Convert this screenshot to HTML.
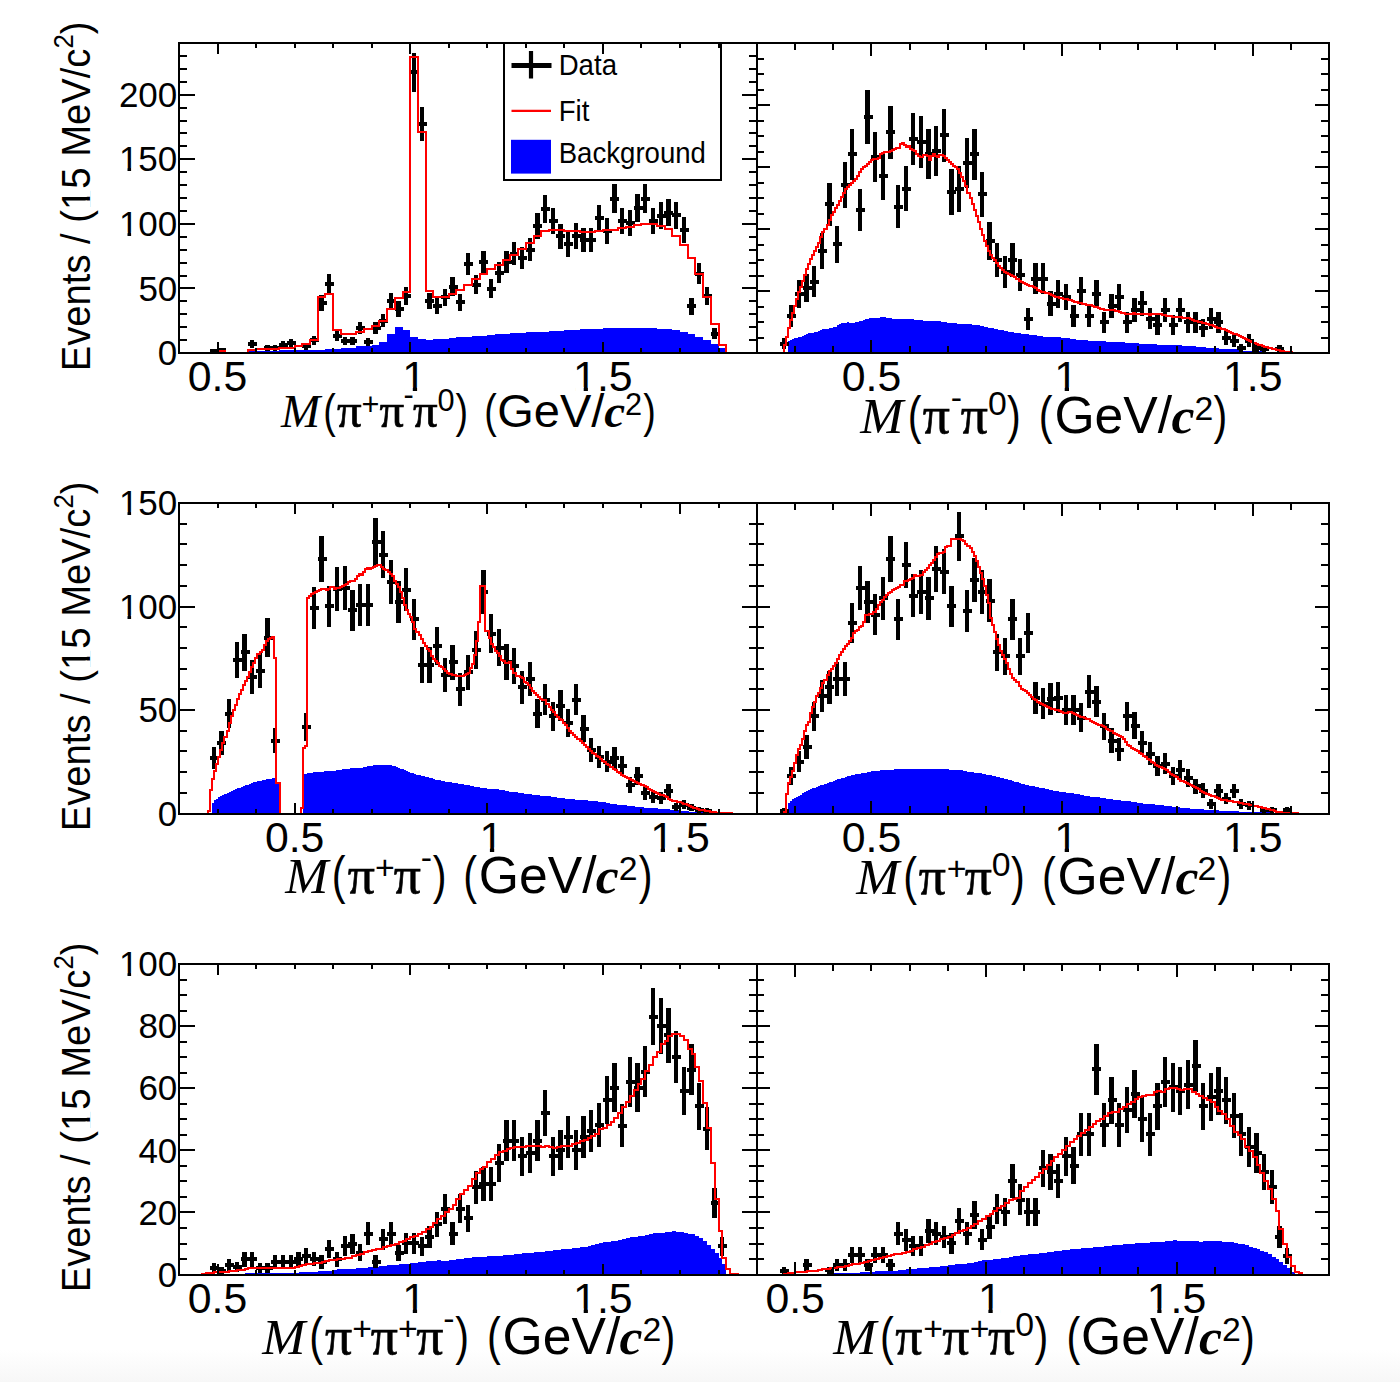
<!DOCTYPE html>
<html lang="en"><head><meta charset="utf-8"><title>Invariant mass fit projections</title>
<style>html,body{margin:0;padding:0;background:#fff}svg{display:block}</style></head>
<body>
<svg width="1400" height="1382" viewBox="0 0 1400 1382" shape-rendering="auto">
<rect width="1400" height="1382" fill="#fff"/>
<defs><linearGradient id="bg" x1="0" y1="0" x2="0" y2="1"><stop offset="0" stop-color="#ffffff"/><stop offset="1" stop-color="#f7f7f7"/></linearGradient></defs><rect x="0" y="1350" width="1400" height="32" fill="url(#bg)"/>
<g clip-path="url(#cp1)">
<clipPath id="cp1"><rect x="179" y="43" width="578" height="310"/></clipPath>
<polygon fill="#0000ff" shape-rendering="crispEdges" points="248.4,353 248.4,351.3 256.1,351.3 256.1,351 263.8,351 263.8,351 271.5,351 271.5,351 279.2,351 279.2,350.4 286.9,350.4 286.9,350.4 294.6,350.4 294.6,350.4 302.3,350.4 302.3,349.7 310,349.7 310,349.7 317.7,349.7 317.7,349.7 325.4,349.7 325.4,348.6 333.1,348.6 333.1,348.6 340.8,348.6 340.8,348.3 348.5,348.3 348.5,347.6 356.3,347.6 356.3,346.4 364,346.4 364,345.7 371.7,345.7 371.7,345 379.4,345 379.4,342.1 387.1,342.1 387.1,334.3 394.8,334.3 394.8,327.1 402.5,327.1 402.5,330 410.2,330 410.2,337.1 417.9,337.1 417.9,339 425.6,339 425.6,340 433.3,340 433.3,339.3 441,339.3 441,338.6 448.7,338.6 448.7,337.9 456.4,337.9 456.4,337.3 464.1,337.3 464.1,336.7 471.9,336.7 471.9,336.1 479.6,336.1 479.6,335.6 487.3,335.6 487.3,334.7 495,334.7 495,334.3 502.7,334.3 502.7,333.6 510.4,333.6 510.4,333.1 518.1,333.1 518.1,332.6 525.8,332.6 525.8,332.4 533.5,332.4 533.5,332.1 541.2,332.1 541.2,331.9 548.9,331.9 548.9,331 556.6,331 556.6,330.5 564.3,330.5 564.3,330.2 572,330.2 572,330.2 579.7,330.2 579.7,329 587.5,329 587.5,329 595.2,329 595.2,329 602.9,329 602.9,327.9 610.6,327.9 610.6,327.9 618.3,327.9 618.3,327.9 626,327.9 626,327.9 633.7,327.9 633.7,327.9 641.4,327.9 641.4,327.9 649.1,327.9 649.1,327.9 656.8,327.9 656.8,328.7 664.5,328.7 664.5,328.7 672.2,328.7 672.2,330.2 679.9,330.2 679.9,332 687.6,332 687.6,334.2 695.3,334.2 695.3,336.8 703.1,336.8 703.1,340.2 710.8,340.2 710.8,344 718.5,344 718.5,347.7 726.2,347.7 726.2,353"/>
<path d="M213.7 349V353M221.4 348V353M252.2 340V348M267.6 345V351M275.3 345V351M283 341V348M290.7 339V347M306.2 343V350M313.9 336V345M321.6 295V311M329.3 274V293M337 331V341M344.7 337V345M352.4 337V345M360.1 322V334M367.8 338V346M375.5 322V334M383.2 314V327M390.9 293V309M398.6 301V317M406.3 287V305M414.1 53V92M421.8 107V141M429.5 293V309M437.2 298V314M444.9 289V306M452.6 277V296M460.3 294V311M468 253V275M475.7 275V294M483.4 251V274M491.1 279V298M498.8 262V283M506.5 251V273M514.2 242V265M521.9 247V269M529.7 238V261M537.4 213V239M545.1 195V223M552.8 208V234M560.5 224V249M568.2 232V257M575.9 223V249M583.6 228V252M591.3 228V252M599 205V232M606.7 218V244M614.4 184V213M622.1 208V234M629.8 210V236M637.5 194V222M645.3 184V213M653 208V234M660.7 202V229M668.4 199V226M676.1 202V229M683.8 217V243M691.5 298V315M699.2 263V284M706.9 287V305M714.6 328V339" stroke="#000" stroke-width="4.3" fill="none" shape-rendering="crispEdges"/>
<path d="M209.5 351H218.5M216.5 350H225.5M247.5 344H256.5M263.5 348H272.5M270.5 348H279.5M278.5 345H287.5M286.5 343H295.5M301.5 346H310.5M309.5 340H318.5M317.5 303H326.5M324.5 284H333.5M332.5 336H341.5M340.5 341H349.5M347.5 341H356.5M355.5 328H364.5M363.5 342H372.5M371.5 328H380.5M378.5 321H387.5M386.5 301H395.5M394.5 309H403.5M401.5 296H410.5M409.5 72H418.5M417.5 124H426.5M424.5 301H433.5M432.5 306H441.5M440.5 297H449.5M448.5 287H457.5M455.5 302H464.5M463.5 264H472.5M471.5 285H480.5M478.5 262H487.5M486.5 289H495.5M494.5 273H503.5M502.5 262H511.5M509.5 254H518.5M517.5 258H526.5M525.5 250H534.5M532.5 226H541.5M540.5 209H549.5M548.5 221H557.5M555.5 236H564.5M563.5 244H572.5M571.5 236H580.5M579.5 240H588.5M586.5 240H595.5M594.5 218H603.5M602.5 231H611.5M609.5 199H618.5M617.5 221H626.5M625.5 223H634.5M633.5 208H642.5M640.5 199H649.5M648.5 221H657.5M656.5 216H665.5M663.5 213H672.5M671.5 215H680.5M679.5 230H688.5M686.5 306H695.5M694.5 274H703.5M702.5 296H711.5M710.5 334H719.5" stroke="#000" stroke-width="4" fill="none" shape-rendering="crispEdges"/>
<polyline fill="none" stroke="#ff0000" stroke-width="2" stroke-linejoin="miter" shape-rendering="crispEdges" points="217.5,353 217.5,351.4 225.2,351.4 225.2,353 232.9,353 232.9,353 240.7,353 240.7,353 248.4,353 248.4,349.7 256.1,349.7 256.1,349 263.8,349 263.8,349 271.5,349 271.5,349 279.2,349 279.2,348.1 286.9,348.1 286.9,348.1 294.6,348.1 294.6,346 302.3,346 302.3,344.3 310,344.3 310,340 317.7,340 317.7,296.7 325.4,296.7 325.4,293.6 333.1,293.6 333.1,330 340.8,330 340.8,333.9 348.5,333.9 348.5,333.9 356.3,333.9 356.3,332.1 364,332.1 364,329 371.7,329 371.7,325.7 379.4,325.7 379.4,320.7 387.1,320.7 387.1,308.9 394.8,308.9 394.8,297.9 402.5,297.9 402.5,292.1 410.2,292.1 410.2,57.4 417.9,57.4 417.9,132.1 425.6,132.1 425.6,290.7 433.3,290.7 433.3,296.7 441,296.7 441,296.7 448.7,296.7 448.7,293.6 456.4,293.6 456.4,289.6 464.1,289.6 464.1,284.7 471.9,284.7 471.9,278.6 479.6,278.6 479.6,273.6 487.3,273.6 487.3,268.9 495,268.9 495,265 502.7,265 502.7,260 510.4,260 510.4,254.7 518.1,254.7 518.1,249 525.8,249 525.8,242.9 533.5,242.9 533.5,236 541.2,236 541.2,231 548.9,231 548.9,229.7 556.6,229.7 556.6,230.3 564.3,230.3 564.3,230.7 572,230.7 572,230.7 579.7,230.7 579.7,231.5 587.5,231.5 587.5,231.5 595.2,231.5 595.2,230.7 602.9,230.7 602.9,230.3 610.6,230.3 610.6,229.7 618.3,229.7 618.3,227.7 626,227.7 626,226.7 633.7,226.7 633.7,225.2 641.4,225.2 641.4,223.5 649.1,223.5 649.1,223.5 656.8,223.5 656.8,225.8 664.5,225.8 664.5,228.8 672.2,228.8 672.2,235.7 679.9,235.7 679.9,244.7 687.6,244.7 687.6,257.7 695.3,257.7 695.3,273.8 703.1,273.8 703.1,297.2 710.8,297.2 710.8,323.7 718.5,323.7 718.5,344.7 726.2,344.7 726.2,353"/>
</g>
<g clip-path="url(#cp2)">
<clipPath id="cp2"><rect x="757" y="43" width="572" height="310"/></clipPath>
<polygon fill="#0000ff" shape-rendering="crispEdges" points="787.6,353 787.6,341 789.7,341 789.7,340 791.7,340 791.7,339 793.8,339 793.8,338 795.8,338 795.8,338 797.9,338 797.9,337 799.9,337 799.9,337 801.9,337 801.9,336 804,336 804,335 806,335 806,334 808.1,334 808.1,333 810.1,333 810.1,333 812.2,333 812.2,333 814.2,333 814.2,332 816.2,332 816.2,332 818.3,332 818.3,331 820.3,331 820.3,330 822.4,330 822.4,329 824.4,329 824.4,329 826.5,329 826.5,329 828.5,329 828.5,328 830.5,328 830.5,328 832.6,328 832.6,327 834.6,327 834.6,327 836.7,327 836.7,325 838.7,325 838.7,324 840.8,324 840.8,323 842.8,323 842.8,323 844.8,323 844.8,323 846.9,323 846.9,322 848.9,322 848.9,323 851,323 851,323 853,323 853,323 855.1,323 855.1,322 857.1,322 857.1,322 859.1,322 859.1,321 861.2,321 861.2,321 863.2,321 863.2,320 865.3,320 865.3,319 867.3,319 867.3,319 869.4,319 869.4,318 871.4,318 871.4,318 873.4,318 873.4,318 875.5,318 875.5,318 877.5,318 877.5,318 879.6,318 879.6,317 881.6,317 881.6,317 883.7,317 883.7,317 885.7,317 885.7,318 887.7,318 887.7,318 889.8,318 889.8,318 891.8,318 891.8,319 893.9,319 893.9,319 895.9,319 895.9,319 898,319 898,319 900,319 900,319 902,319 902,319 904.1,319 904.1,319 906.1,319 906.1,319 908.2,319 908.2,319 910.2,319 910.2,319 912.3,319 912.3,319 914.3,319 914.3,320 916.3,320 916.3,320 918.4,320 918.4,320 920.4,320 920.4,320 922.5,320 922.5,321 924.5,321 924.5,321 926.6,321 926.6,321 928.6,321 928.6,321 930.6,321 930.6,321 932.7,321 932.7,321 934.7,321 934.7,321 936.8,321 936.8,321 938.8,321 938.8,321 940.9,321 940.9,322 942.9,322 942.9,322 944.9,322 944.9,322 947,322 947,323 949,323 949,323 951.1,323 951.1,323 953.1,323 953.1,323 955.2,323 955.2,323 957.2,323 957.2,324 959.2,324 959.2,324 961.3,324 961.3,324 963.3,324 963.3,324 965.4,324 965.4,324 967.4,324 967.4,324 969.5,324 969.5,324 971.5,324 971.5,325 973.5,325 973.5,325 975.6,325 975.6,325 977.6,325 977.6,325 979.7,325 979.7,326 981.7,326 981.7,326 983.8,326 983.8,327 985.8,327 985.8,327 987.8,327 987.8,328 989.9,328 989.9,328 991.9,328 991.9,328 994,328 994,329 996,329 996,329 998.1,329 998.1,330 1000.1,330 1000.1,330 1002.1,330 1002.1,330 1004.2,330 1004.2,331 1006.2,331 1006.2,331 1008.3,331 1008.3,332 1010.3,332 1010.3,332 1012.4,332 1012.4,332 1014.4,332 1014.4,333 1016.4,333 1016.4,333 1018.5,333 1018.5,333 1020.5,333 1020.5,334 1022.6,334 1022.6,334 1024.6,334 1024.6,334 1026.7,334 1026.7,334 1028.7,334 1028.7,335 1030.7,335 1030.7,335 1032.8,335 1032.8,335 1034.8,335 1034.8,335 1036.9,335 1036.9,336 1038.9,336 1038.9,336 1041,336 1041,336 1043,336 1043,337 1045,337 1045,337 1047.1,337 1047.1,337 1049.1,337 1049.1,337 1051.2,337 1051.2,337 1053.2,337 1053.2,337 1055.3,337 1055.3,337 1057.3,337 1057.3,337 1059.3,337 1059.3,337 1061.4,337 1061.4,338 1063.4,338 1063.4,338 1065.5,338 1065.5,338 1067.5,338 1067.5,338 1069.6,338 1069.6,339 1071.6,339 1071.6,339 1073.6,339 1073.6,339 1075.7,339 1075.7,340 1077.7,340 1077.7,340 1079.8,340 1079.8,340 1081.8,340 1081.8,340 1083.9,340 1083.9,340 1085.9,340 1085.9,340 1087.9,340 1087.9,341 1090,341 1090,341 1092,341 1092,341 1094.1,341 1094.1,341 1096.1,341 1096.1,341 1098.2,341 1098.2,341 1100.2,341 1100.2,341 1102.2,341 1102.2,341 1104.3,341 1104.3,341 1106.3,341 1106.3,342 1108.4,342 1108.4,342 1110.4,342 1110.4,342 1112.5,342 1112.5,342 1114.5,342 1114.5,342 1116.5,342 1116.5,342 1118.6,342 1118.6,342 1120.6,342 1120.6,342 1122.7,342 1122.7,342 1124.7,342 1124.7,343 1126.8,343 1126.8,343 1128.8,343 1128.8,343 1130.8,343 1130.8,343 1132.9,343 1132.9,343 1134.9,343 1134.9,343 1137,343 1137,343 1139,343 1139,344 1141.1,344 1141.1,344 1143.1,344 1143.1,344 1145.1,344 1145.1,344 1147.2,344 1147.2,344 1149.2,344 1149.2,344 1151.3,344 1151.3,344 1153.3,344 1153.3,344 1155.4,344 1155.4,344 1157.4,344 1157.4,345 1159.4,345 1159.4,345 1161.5,345 1161.5,345 1163.5,345 1163.5,345 1165.6,345 1165.6,345 1167.6,345 1167.6,345 1169.7,345 1169.7,345 1171.7,345 1171.7,345 1173.7,345 1173.7,345 1175.8,345 1175.8,345 1177.8,345 1177.8,345 1179.9,345 1179.9,345 1181.9,345 1181.9,346 1184,346 1184,346 1186,346 1186,346 1188,346 1188,346 1190.1,346 1190.1,346 1192.1,346 1192.1,346 1194.2,346 1194.2,346 1196.2,346 1196.2,347 1198.3,347 1198.3,347 1200.3,347 1200.3,347 1202.3,347 1202.3,347 1204.4,347 1204.4,347 1206.4,347 1206.4,348 1208.5,348 1208.5,348 1210.5,348 1210.5,348 1212.6,348 1212.6,348 1214.6,348 1214.6,348 1216.6,348 1216.6,348 1218.7,348 1218.7,349 1220.7,349 1220.7,349 1222.8,349 1222.8,349 1224.8,349 1224.8,349 1226.9,349 1226.9,349 1228.9,349 1228.9,349 1230.9,349 1230.9,349 1233,349 1233,349 1235,349 1235,349 1237.1,349 1237.1,350 1239.1,350 1239.1,350 1241.2,350 1241.2,350 1243.2,350 1243.2,351 1245.2,351 1245.2,351 1247.3,351 1247.3,351 1249.3,351 1249.3,351 1251.4,351 1251.4,351 1253.4,351 1253.4,351 1255.5,351 1255.5,351 1257.5,351 1257.5,351 1259.5,351 1259.5,351 1261.6,351 1261.6,353"/>
<path d="M783.7 338V349M791.3 305V327M798.9 280V308M806.6 274V302M814.2 266V297M821.8 233V269M829.5 183V226M837.1 226V263M844.7 162V208M852.3 129V180M860 189V231M867.6 90V144M875.2 132V182M882.8 152V200M890.5 106V159M898.1 185V228M905.7 166V211M913.3 113V165M921 116V168M928.6 129V179M936.2 126V176M943.9 109V162M951.5 169V215M959.1 166V212M966.7 138V188M974.4 129V180M982 172V217M989.6 222V260M997.2 243V277M1004.9 256V288M1012.5 243V277M1020.1 259V291M1027.7 308V330M1035.4 263V294M1043 263V294M1050.6 291V316M1058.3 280V308M1065.9 284V310M1073.5 305V327M1081.1 277V305M1088.8 305V327M1096.4 280V308M1104 312V333M1111.6 294V318M1119.3 284V310M1126.9 312V333M1134.5 298V322M1142.1 291V316M1149.8 308V329M1157.4 315V335M1165 298V322M1172.7 315V335M1180.3 298V322M1187.9 312V333M1195.5 312V333M1203.2 319V337M1210.8 308V329M1218.4 312V333M1226 331V345M1233.7 334V347M1241.3 344V352M1248.9 334V347M1256.5 343V352M1264.2 346V353M1279.4 345V353" stroke="#000" stroke-width="4.3" fill="none" shape-rendering="crispEdges"/>
<path d="M779.5 344H788.5M786.5 316H795.5M794.5 294H803.5M802.5 288H811.5M809.5 282H818.5M817.5 251H826.5M824.5 204H833.5M832.5 244H841.5M840.5 185H849.5M847.5 154H856.5M855.5 210H864.5M863.5 117H872.5M870.5 157H879.5M878.5 176H887.5M885.5 132H894.5M893.5 207H902.5M901.5 189H910.5M908.5 139H917.5M916.5 142H925.5M924.5 154H933.5M931.5 151H940.5M939.5 135H948.5M946.5 192H955.5M954.5 189H963.5M962.5 163H971.5M969.5 154H978.5M977.5 194H986.5M985.5 241H994.5M992.5 260H1001.5M1000.5 272H1009.5M1007.5 260H1016.5M1015.5 275H1024.5M1023.5 319H1032.5M1030.5 279H1039.5M1038.5 279H1047.5M1046.5 304H1055.5M1053.5 294H1062.5M1061.5 297H1070.5M1069.5 316H1078.5M1076.5 291H1085.5M1084.5 316H1093.5M1091.5 294H1100.5M1099.5 322H1108.5M1107.5 306H1116.5M1114.5 297H1123.5M1122.5 322H1131.5M1130.5 310H1139.5M1137.5 303H1146.5M1145.5 319H1154.5M1152.5 325H1161.5M1160.5 310H1169.5M1168.5 325H1177.5M1175.5 310H1184.5M1183.5 322H1192.5M1191.5 322H1200.5M1198.5 328H1207.5M1206.5 319H1215.5M1213.5 322H1222.5M1221.5 338H1230.5M1229.5 341H1238.5M1236.5 348H1245.5M1244.5 341H1253.5M1252.5 348H1261.5M1259.5 349H1268.5M1274.5 349H1283.5" stroke="#000" stroke-width="4" fill="none" shape-rendering="crispEdges"/>
<polyline fill="none" stroke="#ff0000" stroke-width="2" stroke-linejoin="miter" shape-rendering="crispEdges" points="783.6,353 783.6,345 785.6,345 785.6,337 787.6,337 787.6,328 789.7,328 789.7,320 791.7,320 791.7,313 793.8,313 793.8,306 795.8,306 795.8,299 797.9,299 797.9,292 799.9,292 799.9,287 801.9,287 801.9,281 804,281 804,275 806,275 806,269 808.1,269 808.1,264 810.1,264 810.1,259 812.2,259 812.2,255 814.2,255 814.2,251 816.2,251 816.2,247 818.3,247 818.3,243 820.3,243 820.3,237 822.4,237 822.4,232 824.4,232 824.4,229 826.5,229 826.5,225 828.5,225 828.5,220 830.5,220 830.5,215 832.6,215 832.6,212 834.6,212 834.6,208 836.7,208 836.7,205 838.7,205 838.7,201 840.8,201 840.8,197 842.8,197 842.8,193 844.8,193 844.8,189 846.9,189 846.9,187 848.9,187 848.9,185 851,185 851,183 853,183 853,181 855.1,181 855.1,179 857.1,179 857.1,176 859.1,176 859.1,172 861.2,172 861.2,169 863.2,169 863.2,167 865.3,167 865.3,166 867.3,166 867.3,164 869.4,164 869.4,162 871.4,162 871.4,160 873.4,160 873.4,159 875.5,159 875.5,159 877.5,159 877.5,158 879.6,158 879.6,154 881.6,154 881.6,153 883.7,153 883.7,152 885.7,152 885.7,152 887.7,152 887.7,152 889.8,152 889.8,151 891.8,151 891.8,150 893.9,150 893.9,149 895.9,149 895.9,148 898,148 898,148 900,148 900,144 902,144 902,143 904.1,143 904.1,145 906.1,145 906.1,147 908.2,147 908.2,146 910.2,146 910.2,149 912.3,149 912.3,150 914.3,150 914.3,151 916.3,151 916.3,154 918.4,154 918.4,156 920.4,156 920.4,157 922.5,157 922.5,155 924.5,155 924.5,155 926.6,155 926.6,156 928.6,156 928.6,160 930.6,160 930.6,156 932.7,156 932.7,154 934.7,154 934.7,156 936.8,156 936.8,157 938.8,157 938.8,155 940.9,155 940.9,155 942.9,155 942.9,156 944.9,156 944.9,158 947,158 947,160 949,160 949,162 951.1,162 951.1,164 953.1,164 953.1,166 955.2,166 955.2,167 957.2,167 957.2,169 959.2,169 959.2,173 961.3,173 961.3,177 963.3,177 963.3,181 965.4,181 965.4,186 967.4,186 967.4,193 969.5,193 969.5,198 971.5,198 971.5,204 973.5,204 973.5,210 975.6,210 975.6,216 977.6,216 977.6,222 979.7,222 979.7,229 981.7,229 981.7,235 983.8,235 983.8,241 985.8,241 985.8,246 987.8,246 987.8,251 989.9,251 989.9,255 991.9,255 991.9,258 994,258 994,260 996,260 996,263 998.1,263 998.1,266 1000.1,266 1000.1,268 1002.1,268 1002.1,270 1004.2,270 1004.2,272 1006.2,272 1006.2,273 1008.3,273 1008.3,274 1010.3,274 1010.3,275 1012.4,275 1012.4,276 1014.4,276 1014.4,277 1016.4,277 1016.4,279 1018.5,279 1018.5,281 1020.5,281 1020.5,282 1022.6,282 1022.6,283 1024.6,283 1024.6,284 1026.7,284 1026.7,285 1028.7,285 1028.7,286 1030.7,286 1030.7,286 1032.8,286 1032.8,287 1034.8,287 1034.8,288 1036.9,288 1036.9,290 1038.9,290 1038.9,291 1041,291 1041,292 1043,292 1043,292 1045,292 1045,293 1047.1,293 1047.1,293 1049.1,293 1049.1,294 1051.2,294 1051.2,295 1053.2,295 1053.2,296 1055.3,296 1055.3,297 1057.3,297 1057.3,297 1059.3,297 1059.3,298 1061.4,298 1061.4,298 1063.4,298 1063.4,299 1065.5,299 1065.5,299 1067.5,299 1067.5,300 1069.6,300 1069.6,300 1071.6,300 1071.6,301 1073.6,301 1073.6,302 1075.7,302 1075.7,302 1077.7,302 1077.7,303 1079.8,303 1079.8,303 1081.8,303 1081.8,304 1083.9,304 1083.9,304 1085.9,304 1085.9,305 1087.9,305 1087.9,305 1090,305 1090,305 1092,305 1092,306 1094.1,306 1094.1,307 1096.1,307 1096.1,307 1098.2,307 1098.2,308 1100.2,308 1100.2,309 1102.2,309 1102.2,309 1104.3,309 1104.3,310 1106.3,310 1106.3,310 1108.4,310 1108.4,310 1110.4,310 1110.4,310 1112.5,310 1112.5,310 1114.5,310 1114.5,311 1116.5,311 1116.5,311 1118.6,311 1118.6,312 1120.6,312 1120.6,313 1122.7,313 1122.7,313 1124.7,313 1124.7,314 1126.8,314 1126.8,314 1128.8,314 1128.8,314 1130.8,314 1130.8,314 1132.9,314 1132.9,313 1134.9,313 1134.9,314 1137,314 1137,314 1139,314 1139,314 1141.1,314 1141.1,314 1143.1,314 1143.1,314 1145.1,314 1145.1,314 1147.2,314 1147.2,314 1149.2,314 1149.2,315 1151.3,315 1151.3,314 1153.3,314 1153.3,314 1155.4,314 1155.4,314 1157.4,314 1157.4,314 1159.4,314 1159.4,314 1161.5,314 1161.5,315 1163.5,315 1163.5,315 1165.6,315 1165.6,316 1167.6,316 1167.6,316 1169.7,316 1169.7,316 1171.7,316 1171.7,317 1173.7,317 1173.7,317 1175.8,317 1175.8,317 1177.8,317 1177.8,317 1179.9,317 1179.9,317 1181.9,317 1181.9,318 1184,318 1184,318 1186,318 1186,318 1188,318 1188,318 1190.1,318 1190.1,319 1192.1,319 1192.1,320 1194.2,320 1194.2,321 1196.2,321 1196.2,321 1198.3,321 1198.3,322 1200.3,322 1200.3,322 1202.3,322 1202.3,323 1204.4,323 1204.4,323 1206.4,323 1206.4,324 1208.5,324 1208.5,325 1210.5,325 1210.5,325 1212.6,325 1212.6,326 1214.6,326 1214.6,327 1216.6,327 1216.6,328 1218.7,328 1218.7,328 1220.7,328 1220.7,329 1222.8,329 1222.8,329 1224.8,329 1224.8,330 1226.9,330 1226.9,331 1228.9,331 1228.9,332 1230.9,332 1230.9,333 1233,333 1233,334 1235,334 1235,334 1237.1,334 1237.1,335 1239.1,335 1239.1,336 1241.2,336 1241.2,337 1243.2,337 1243.2,338 1245.2,338 1245.2,339 1247.3,339 1247.3,340 1249.3,340 1249.3,341 1251.4,341 1251.4,342 1253.4,342 1253.4,343 1255.5,343 1255.5,344 1257.5,344 1257.5,345 1259.5,345 1259.5,345 1261.6,345 1261.6,346 1263.6,346 1263.6,347 1265.7,347 1265.7,347 1267.7,347 1267.7,348 1269.8,348 1269.8,348 1271.8,348 1271.8,349 1273.8,349 1273.8,349 1275.9,349 1275.9,350 1277.9,350 1277.9,350 1280,350 1280,351 1282,351 1282,351 1284.1,351 1284.1,352 1286.1,352 1286.1,352 1288.1,352 1288.1,352 1290.2,352 1290.2,352 1292.2,352 1292.2,353"/>
</g>
<g clip-path="url(#cp3)">
<clipPath id="cp3"><rect x="179" y="503" width="578" height="310.5"/></clipPath>
<polygon fill="#0000ff" shape-rendering="crispEdges" points="212,813.5 212,803 214.1,803 214.1,800 216.2,800 216.2,799 218.2,799 218.2,797 220.3,797 220.3,796 222.3,796 222.3,795 224.4,795 224.4,794 226.5,794 226.5,793 228.5,793 228.5,792 230.6,792 230.6,791 232.7,791 232.7,790 234.7,790 234.7,789 236.8,789 236.8,788 238.9,788 238.9,788 240.9,788 240.9,787 243,787 243,786 245.1,786 245.1,785 247.1,785 247.1,785 249.2,785 249.2,784 251.2,784 251.2,783 253.3,783 253.3,782 255.4,782 255.4,782 257.4,782 257.4,781 259.5,781 259.5,781 261.6,781 261.6,780 263.6,780 263.6,780 265.7,780 265.7,779 267.8,779 267.8,779 269.8,779 269.8,779 271.9,779 271.9,778 274,778 274,778 276,778 276,783 278.1,783 278.1,783 280.1,783 280.1,813.5"/>
<polygon fill="#0000ff" shape-rendering="crispEdges" points="302.9,813.5 302.9,774 304.9,774 304.9,774 307,774 307,773 309.1,773 309.1,773 311.1,773 311.1,773 313.2,773 313.2,772 315.2,772 315.2,772 317.3,772 317.3,772 319.4,772 319.4,772 321.4,772 321.4,772 323.5,772 323.5,771 325.6,771 325.6,771 327.6,771 327.6,771 329.7,771 329.7,771 331.8,771 331.8,771 333.8,771 333.8,771 335.9,771 335.9,770 338,770 338,770 340,770 340,770 342.1,770 342.1,769 344.1,769 344.1,769 346.2,769 346.2,769 348.3,769 348.3,769 350.3,769 350.3,768 352.4,768 352.4,768 354.5,768 354.5,768 356.5,768 356.5,768 358.6,768 358.6,768 360.7,768 360.7,768 362.7,768 362.7,767 364.8,767 364.8,767 366.9,767 366.9,766 368.9,766 368.9,766 371,766 371,766 373,766 373,765 375.1,765 375.1,765 377.2,765 377.2,765 379.2,765 379.2,765 381.3,765 381.3,765 383.4,765 383.4,765 385.4,765 385.4,765 387.5,765 387.5,765 389.6,765 389.6,765 391.6,765 391.6,766 393.7,766 393.7,766 395.8,766 395.8,767 397.8,767 397.8,768 399.9,768 399.9,769 401.9,769 401.9,769 404,769 404,770 406.1,770 406.1,771 408.1,771 408.1,772 410.2,772 410.2,773 412.3,773 412.3,773 414.3,773 414.3,774 416.4,774 416.4,775 418.5,775 418.5,775 420.5,775 420.5,776 422.6,776 422.6,776 424.7,776 424.7,777 426.7,777 426.7,777 428.8,777 428.8,778 430.8,778 430.8,778 432.9,778 432.9,779 435,779 435,780 437,780 437,780 439.1,780 439.1,780 441.2,780 441.2,781 443.2,781 443.2,781 445.3,781 445.3,782 447.4,782 447.4,782 449.4,782 449.4,782 451.5,782 451.5,783 453.6,783 453.6,783 455.6,783 455.6,783 457.7,783 457.7,784 459.7,784 459.7,784 461.8,784 461.8,784 463.9,784 463.9,785 465.9,785 465.9,785 468,785 468,785 470.1,785 470.1,786 472.1,786 472.1,786 474.2,786 474.2,787 476.3,787 476.3,787 478.3,787 478.3,787 480.4,787 480.4,788 482.5,788 482.5,788 484.5,788 484.5,788 486.6,788 486.6,789 488.6,789 488.6,789 490.7,789 490.7,789 492.8,789 492.8,789 494.8,789 494.8,789 496.9,789 496.9,789 499,789 499,790 501,790 501,790 503.1,790 503.1,790 505.2,790 505.2,791 507.2,791 507.2,791 509.3,791 509.3,792 511.4,792 511.4,792 513.4,792 513.4,792 515.5,792 515.5,792 517.5,792 517.5,793 519.6,793 519.6,793 521.7,793 521.7,793 523.7,793 523.7,794 525.8,794 525.8,794 527.9,794 527.9,794 529.9,794 529.9,794 532,794 532,795 534.1,795 534.1,795 536.1,795 536.1,795 538.2,795 538.2,795 540.2,795 540.2,796 542.3,796 542.3,796 544.4,796 544.4,796 546.4,796 546.4,796 548.5,796 548.5,796 550.6,796 550.6,797 552.6,797 552.6,797 554.7,797 554.7,797 556.8,797 556.8,798 558.8,798 558.8,798 560.9,798 560.9,798 563,798 563,798 565,798 565,799 567.1,799 567.1,799 569.2,799 569.2,799 571.2,799 571.2,799 573.3,799 573.3,799 575.3,799 575.3,800 577.4,800 577.4,800 579.5,800 579.5,800 581.5,800 581.5,800 583.6,800 583.6,800 585.7,800 585.7,800 587.7,800 587.7,801 589.8,801 589.8,801 591.9,801 591.9,801 593.9,801 593.9,801 596,801 596,801 598.1,801 598.1,802 600.1,802 600.1,802 602.2,802 602.2,802 604.2,802 604.2,802 606.3,802 606.3,803 608.4,803 608.4,803 610.4,803 610.4,804 612.5,804 612.5,804 614.6,804 614.6,804 616.6,804 616.6,805 618.7,805 618.7,805 620.8,805 620.8,805 622.8,805 622.8,805 624.9,805 624.9,805 627,805 627,806 629,806 629,806 631.1,806 631.1,806 633.1,806 633.1,806 635.2,806 635.2,807 637.3,807 637.3,807 639.3,807 639.3,807 641.4,807 641.4,807 643.5,807 643.5,808 645.5,808 645.5,808 647.6,808 647.6,808 649.7,808 649.7,808 651.7,808 651.7,808 653.8,808 653.8,808 655.9,808 655.9,808 657.9,808 657.9,809 660,809 660,809 662,809 662,809 664.1,809 664.1,809 666.2,809 666.2,809 668.2,809 668.2,809 670.3,809 670.3,810 672.4,810 672.4,810 674.4,810 674.4,810 676.5,810 676.5,810 678.6,810 678.6,811 680.6,811 680.6,811 682.7,811 682.7,811 684.8,811 684.8,811 686.8,811 686.8,811 688.9,811 688.9,811.5 690.9,811.5 690.9,811.5 693,811.5 693,811.5 695.1,811.5 695.1,811.5 697.1,811.5 697.1,811.5 699.2,811.5 699.2,811.5 701.3,811.5 701.3,811.5 703.3,811.5 703.3,811.5 705.4,811.5 705.4,813.5"/>
<path d="M213.7 747V769M221.4 731V755M229.1 699V728M236.8 642V678M244.5 634V671M252.2 660V694M259.9 653V688M267.6 618V657M275.3 728V753M306.2 713V741M313.9 587V629M321.6 536V582M329.3 586V627M337 567V611M344.7 566V610M352.4 590V631M360.1 584V626M367.8 584V626M375.5 518V566M383.2 531V578M390.9 560V604M398.6 581V623M406.3 568V611M414.1 599V640M421.8 647V683M429.5 647V683M437.2 627V665M444.9 658V692M452.6 645V680M460.3 673V706M468 655V690M475.7 631V669M483.4 570V614M491.1 614V653M498.8 629V666M506.5 644V680M514.2 648V684M521.9 671V704M529.7 662V696M537.4 699V728M545.1 684V715M552.8 702V731M560.5 690V721M568.2 709V737M575.9 684V715M583.6 715V742M591.3 738V762M599 746V768M606.7 751V772M614.4 747V769M622.1 756V776M629.8 777V793M637.5 767V785M645.3 787V800M653 791V803M660.7 792V804M668.4 784V798M676.1 803V811M683.8 800V809M691.5 804V811M699.2 807V813M706.9 808V813" stroke="#000" stroke-width="4.3" fill="none" shape-rendering="crispEdges"/>
<path d="M209.5 758H218.5M216.5 743H225.5M224.5 714H233.5M232.5 660H241.5M240.5 652H249.5M247.5 677H256.5M255.5 671H264.5M263.5 638H272.5M270.5 741H279.5M301.5 727H310.5M309.5 608H318.5M317.5 559H326.5M324.5 606H333.5M332.5 589H341.5M340.5 588H349.5M347.5 610H356.5M355.5 605H364.5M363.5 605H372.5M371.5 542H380.5M378.5 555H387.5M386.5 582H395.5M394.5 602H403.5M401.5 590H410.5M409.5 619H418.5M417.5 665H426.5M424.5 665H433.5M432.5 646H441.5M440.5 675H449.5M448.5 662H457.5M455.5 689H464.5M463.5 672H472.5M471.5 650H480.5M478.5 592H487.5M486.5 634H495.5M494.5 648H503.5M502.5 662H511.5M509.5 666H518.5M517.5 687H526.5M525.5 679H534.5M532.5 714H541.5M540.5 700H549.5M548.5 716H557.5M555.5 706H564.5M563.5 723H572.5M571.5 700H580.5M579.5 729H588.5M586.5 750H595.5M594.5 757H603.5M602.5 762H611.5M609.5 758H618.5M617.5 766H626.5M625.5 785H634.5M633.5 776H642.5M640.5 793H649.5M648.5 797H657.5M656.5 798H665.5M663.5 791H672.5M671.5 807H680.5M679.5 805H688.5M686.5 808H695.5M694.5 810H703.5M702.5 811H711.5" stroke="#000" stroke-width="4" fill="none" shape-rendering="crispEdges"/>
<polyline fill="none" stroke="#ff0000" stroke-width="2" stroke-linejoin="miter" shape-rendering="crispEdges" points="207.9,813.5 207.9,811 210,811 210,790 212,790 212,779 214.1,779 214.1,771 216.2,771 216.2,764 218.2,764 218.2,757 220.3,757 220.3,750 222.3,750 222.3,743 224.4,743 224.4,737 226.5,737 226.5,731 228.5,731 228.5,723 230.6,723 230.6,716 232.7,716 232.7,710 234.7,710 234.7,705 236.8,705 236.8,699 238.9,699 238.9,694 240.9,694 240.9,690 243,690 243,685 245.1,685 245.1,681 247.1,681 247.1,677 249.2,677 249.2,672 251.2,672 251.2,667 253.3,667 253.3,663 255.4,663 255.4,658 257.4,658 257.4,654 259.5,654 259.5,652 261.6,652 261.6,650 263.6,650 263.6,645 265.7,645 265.7,641 267.8,641 267.8,639 269.8,639 269.8,638 271.9,638 271.9,637 274,637 274,658 276,658 276,783 278.1,783 278.1,783 280.1,783 280.1,813.5"/>
<polyline fill="none" stroke="#ff0000" stroke-width="2" stroke-linejoin="miter" shape-rendering="crispEdges" points="300.8,813.5 300.8,808 302.9,808 302.9,748 304.9,748 304.9,746 307,746 307,598 309.1,598 309.1,596 311.1,596 311.1,594 313.2,594 313.2,593 315.2,593 315.2,592 317.3,592 317.3,591 319.4,591 319.4,590 321.4,590 321.4,589 323.5,589 323.5,589 325.6,589 325.6,590 327.6,590 327.6,589 329.7,589 329.7,587 331.8,587 331.8,587 333.8,587 333.8,589 335.9,589 335.9,588 338,588 338,588 340,588 340,587 342.1,587 342.1,586 344.1,586 344.1,585 346.2,585 346.2,584 348.3,584 348.3,582 350.3,582 350.3,581 352.4,581 352.4,581 354.5,581 354.5,579 356.5,579 356.5,576 358.6,576 358.6,574 360.7,574 360.7,575 362.7,575 362.7,572 364.8,572 364.8,569 366.9,569 366.9,568 368.9,568 368.9,569 371,569 371,568 373,568 373,567 375.1,567 375.1,566 377.2,566 377.2,565 379.2,565 379.2,565 381.3,565 381.3,567 383.4,567 383.4,569 385.4,569 385.4,570 387.5,570 387.5,572 389.6,572 389.6,574 391.6,574 391.6,576 393.7,576 393.7,581 395.8,581 395.8,584 397.8,584 397.8,587 399.9,587 399.9,592 401.9,592 401.9,598 404,598 404,605 406.1,605 406.1,610 408.1,610 408.1,614 410.2,614 410.2,617 412.3,617 412.3,622 414.3,622 414.3,629 416.4,629 416.4,632 418.5,632 418.5,635 420.5,635 420.5,639 422.6,639 422.6,643 424.7,643 424.7,646 426.7,646 426.7,649 428.8,649 428.8,651 430.8,651 430.8,656 432.9,656 432.9,659 435,659 435,661 437,661 437,663 439.1,663 439.1,666 441.2,666 441.2,667 443.2,667 443.2,669 445.3,669 445.3,671 447.4,671 447.4,673 449.4,673 449.4,674 451.5,674 451.5,675 453.6,675 453.6,675 455.6,675 455.6,676 457.7,676 457.7,676 459.7,676 459.7,676 461.8,676 461.8,676 463.9,676 463.9,675 465.9,675 465.9,674 468,674 468,673 470.1,673 470.1,668 472.1,668 472.1,664 474.2,664 474.2,655 476.3,655 476.3,641 478.3,641 478.3,622 480.4,622 480.4,586 482.5,586 482.5,586 484.5,586 484.5,631 486.6,631 486.6,631 488.6,631 488.6,638 490.7,638 490.7,644 492.8,644 492.8,647 494.8,647 494.8,651 496.9,651 496.9,653 499,653 499,656 501,656 501,660 503.1,660 503.1,661 505.2,661 505.2,663 507.2,663 507.2,663 509.3,663 509.3,662 511.4,662 511.4,669 513.4,669 513.4,673 515.5,673 515.5,676 517.5,676 517.5,676 519.6,676 519.6,677 521.7,677 521.7,678 523.7,678 523.7,682 525.8,682 525.8,683 527.9,683 527.9,685 529.9,685 529.9,688 532,688 532,691 534.1,691 534.1,693 536.1,693 536.1,695 538.2,695 538.2,697 540.2,697 540.2,699 542.3,699 542.3,700 544.4,700 544.4,700 546.4,700 546.4,704 548.5,704 548.5,707 550.6,707 550.6,710 552.6,710 552.6,712 554.7,712 554.7,715 556.8,715 556.8,717 558.8,717 558.8,719 560.9,719 560.9,720 563,720 563,723 565,723 565,725 567.1,725 567.1,728 569.2,728 569.2,731 571.2,731 571.2,733 573.3,733 573.3,735 575.3,735 575.3,737 577.4,737 577.4,739 579.5,739 579.5,741 581.5,741 581.5,743 583.6,743 583.6,745 585.7,745 585.7,747 587.7,747 587.7,749 589.8,749 589.8,751 591.9,751 591.9,753 593.9,753 593.9,754 596,754 596,756 598.1,756 598.1,757 600.1,757 600.1,759 602.2,759 602.2,761 604.2,761 604.2,762 606.3,762 606.3,764 608.4,764 608.4,765 610.4,765 610.4,767 612.5,767 612.5,769 614.6,769 614.6,770 616.6,770 616.6,772 618.7,772 618.7,773 620.8,773 620.8,775 622.8,775 622.8,776 624.9,776 624.9,777 627,777 627,778 629,778 629,779 631.1,779 631.1,780 633.1,780 633.1,781 635.2,781 635.2,782 637.3,782 637.3,783 639.3,783 639.3,784 641.4,784 641.4,785 643.5,785 643.5,786 645.5,786 645.5,787 647.6,787 647.6,789 649.7,789 649.7,790 651.7,790 651.7,791 653.8,791 653.8,792 655.9,792 655.9,793 657.9,793 657.9,794 660,794 660,795 662,795 662,795 664.1,795 664.1,796 666.2,796 666.2,797 668.2,797 668.2,799 670.3,799 670.3,800 672.4,800 672.4,801 674.4,801 674.4,801 676.5,801 676.5,802 678.6,802 678.6,802 680.6,802 680.6,803 682.7,803 682.7,804 684.8,804 684.8,804 686.8,804 686.8,805 688.9,805 688.9,806 690.9,806 690.9,807 693,807 693,808 695.1,808 695.1,808 697.1,808 697.1,809 699.2,809 699.2,810 701.3,810 701.3,810 703.3,810 703.3,810 705.4,810 705.4,811 707.5,811 707.5,811 709.5,811 709.5,812 711.6,812 711.6,812 713.7,812 713.7,812 715.7,812 715.7,813 717.8,813 717.8,813 719.8,813 719.8,813 721.9,813 721.9,813 724,813 724,813 726,813 726,813 728.1,813 728.1,813 730.2,813 730.2,813 732.2,813 732.2,813.5"/>
</g>
<g clip-path="url(#cp4)">
<clipPath id="cp4"><rect x="757" y="503" width="572" height="310.5"/></clipPath>
<polygon fill="#0000ff" shape-rendering="crispEdges" points="787.6,813.5 787.6,803 789.7,803 789.7,801 791.7,801 791.7,799 793.8,799 793.8,798 795.8,798 795.8,797 797.9,797 797.9,796 799.9,796 799.9,795 801.9,795 801.9,793 804,793 804,792 806,792 806,791 808.1,791 808.1,790 810.1,790 810.1,789 812.2,789 812.2,788 814.2,788 814.2,788 816.2,788 816.2,787 818.3,787 818.3,786 820.3,786 820.3,785 822.4,785 822.4,785 824.4,785 824.4,784 826.5,784 826.5,783 828.5,783 828.5,782 830.5,782 830.5,782 832.6,782 832.6,781 834.6,781 834.6,780 836.7,780 836.7,779 838.7,779 838.7,779 840.8,779 840.8,778 842.8,778 842.8,778 844.8,778 844.8,777 846.9,777 846.9,776 848.9,776 848.9,776 851,776 851,775 853,775 853,775 855.1,775 855.1,774 857.1,774 857.1,774 859.1,774 859.1,774 861.2,774 861.2,773 863.2,773 863.2,773 865.3,773 865.3,773 867.3,773 867.3,772 869.4,772 869.4,772 871.4,772 871.4,771 873.4,771 873.4,771 875.5,771 875.5,771 877.5,771 877.5,771 879.6,771 879.6,770 881.6,770 881.6,770 883.7,770 883.7,770 885.7,770 885.7,770 887.7,770 887.7,770 889.8,770 889.8,770 891.8,770 891.8,770 893.9,770 893.9,769 895.9,769 895.9,769 898,769 898,769 900,769 900,769 902,769 902,769 904.1,769 904.1,769 906.1,769 906.1,769 908.2,769 908.2,769 910.2,769 910.2,769 912.3,769 912.3,769 914.3,769 914.3,769 916.3,769 916.3,769 918.4,769 918.4,769 920.4,769 920.4,769 922.5,769 922.5,769 924.5,769 924.5,769 926.6,769 926.6,769 928.6,769 928.6,769 930.6,769 930.6,769 932.7,769 932.7,769 934.7,769 934.7,769 936.8,769 936.8,769 938.8,769 938.8,769 940.9,769 940.9,769 942.9,769 942.9,769 944.9,769 944.9,769 947,769 947,769 949,769 949,770 951.1,770 951.1,770 953.1,770 953.1,770 955.2,770 955.2,770 957.2,770 957.2,770 959.2,770 959.2,770 961.3,770 961.3,770 963.3,770 963.3,771 965.4,771 965.4,771 967.4,771 967.4,772 969.5,772 969.5,772 971.5,772 971.5,772 973.5,772 973.5,773 975.6,773 975.6,773 977.6,773 977.6,773 979.7,773 979.7,773 981.7,773 981.7,774 983.8,774 983.8,774 985.8,774 985.8,775 987.8,775 987.8,775 989.9,775 989.9,775 991.9,775 991.9,776 994,776 994,776 996,776 996,777 998.1,777 998.1,777 1000.1,777 1000.1,778 1002.1,778 1002.1,778 1004.2,778 1004.2,779 1006.2,779 1006.2,779 1008.3,779 1008.3,780 1010.3,780 1010.3,780 1012.4,780 1012.4,781 1014.4,781 1014.4,782 1016.4,782 1016.4,782 1018.5,782 1018.5,783 1020.5,783 1020.5,784 1022.6,784 1022.6,784 1024.6,784 1024.6,785 1026.7,785 1026.7,785 1028.7,785 1028.7,786 1030.7,786 1030.7,786 1032.8,786 1032.8,786 1034.8,786 1034.8,787 1036.9,787 1036.9,787 1038.9,787 1038.9,788 1041,788 1041,788 1043,788 1043,788 1045,788 1045,789 1047.1,789 1047.1,789 1049.1,789 1049.1,790 1051.2,790 1051.2,790 1053.2,790 1053.2,791 1055.3,791 1055.3,791 1057.3,791 1057.3,791 1059.3,791 1059.3,792 1061.4,792 1061.4,792 1063.4,792 1063.4,792 1065.5,792 1065.5,793 1067.5,793 1067.5,793 1069.6,793 1069.6,793 1071.6,793 1071.6,793 1073.6,793 1073.6,794 1075.7,794 1075.7,794 1077.7,794 1077.7,794 1079.8,794 1079.8,795 1081.8,795 1081.8,795 1083.9,795 1083.9,796 1085.9,796 1085.9,796 1087.9,796 1087.9,796 1090,796 1090,797 1092,797 1092,797 1094.1,797 1094.1,797 1096.1,797 1096.1,797 1098.2,797 1098.2,797 1100.2,797 1100.2,798 1102.2,798 1102.2,798 1104.3,798 1104.3,798 1106.3,798 1106.3,799 1108.4,799 1108.4,799 1110.4,799 1110.4,799 1112.5,799 1112.5,800 1114.5,800 1114.5,800 1116.5,800 1116.5,800 1118.6,800 1118.6,800 1120.6,800 1120.6,801 1122.7,801 1122.7,801 1124.7,801 1124.7,801 1126.8,801 1126.8,801 1128.8,801 1128.8,801 1130.8,801 1130.8,802 1132.9,802 1132.9,802 1134.9,802 1134.9,802 1137,802 1137,803 1139,803 1139,803 1141.1,803 1141.1,803 1143.1,803 1143.1,804 1145.1,804 1145.1,804 1147.2,804 1147.2,804 1149.2,804 1149.2,804 1151.3,804 1151.3,804 1153.3,804 1153.3,804 1155.4,804 1155.4,805 1157.4,805 1157.4,805 1159.4,805 1159.4,805 1161.5,805 1161.5,805 1163.5,805 1163.5,806 1165.6,806 1165.6,806 1167.6,806 1167.6,806 1169.7,806 1169.7,806 1171.7,806 1171.7,807 1173.7,807 1173.7,807 1175.8,807 1175.8,807 1177.8,807 1177.8,807 1179.9,807 1179.9,808 1181.9,808 1181.9,808 1184,808 1184,808 1186,808 1186,808 1188,808 1188,808 1190.1,808 1190.1,809 1192.1,809 1192.1,809 1194.2,809 1194.2,809 1196.2,809 1196.2,809 1198.3,809 1198.3,809 1200.3,809 1200.3,809 1202.3,809 1202.3,809 1204.4,809 1204.4,810 1206.4,810 1206.4,810 1208.5,810 1208.5,810 1210.5,810 1210.5,810 1212.6,810 1212.6,810 1214.6,810 1214.6,810 1216.6,810 1216.6,810 1218.7,810 1218.7,811 1220.7,811 1220.7,811 1222.8,811 1222.8,811 1224.8,811 1224.8,811 1226.9,811 1226.9,811 1228.9,811 1228.9,811 1230.9,811 1230.9,811 1233,811 1233,811 1235,811 1235,811 1237.1,811 1237.1,811 1239.1,811 1239.1,811.5 1241.2,811.5 1241.2,811.5 1243.2,811.5 1243.2,811.5 1245.2,811.5 1245.2,811.5 1247.3,811.5 1247.3,811.5 1249.3,811.5 1249.3,811.5 1251.4,811.5 1251.4,811.5 1253.4,811.5 1253.4,811.5 1255.5,811.5 1255.5,811.5 1257.5,811.5 1257.5,811.5 1259.5,811.5 1259.5,811.5 1261.6,811.5 1261.6,811.5 1263.6,811.5 1263.6,811.5 1265.7,811.5 1265.7,811.5 1267.7,811.5 1267.7,811.5 1269.8,811.5 1269.8,811.5 1271.8,811.5 1271.8,813.5"/>
<path d="M783.7 808V814M791.3 767V785M798.9 751V772M806.6 735V759M814.2 702V731M821.8 680V712M829.5 671V704M837.1 662V696M844.7 662V696M852.3 603V643M860 566V610M867.6 581V623M875.2 594V635M882.8 577V620M890.5 536V582M898.1 599V640M905.7 542V588M913.3 574V617M921 570V614M928.6 577V620M936.2 546V592M943.9 549V594M951.5 586V627M959.1 512V561M966.7 590V632M974.4 558V602M982 570V614M989.6 579V622M997.2 634V671M1004.9 638V675M1012.5 599V640M1020.1 638V675M1027.7 613V653M1035.4 682V714M1043 688V719M1050.6 683V715M1058.3 682V713M1065.9 695V725M1073.5 695V725M1081.1 703V732M1088.8 675V708M1096.4 686V717M1104 713V740M1111.6 728V753M1119.3 738V761M1126.9 702V731M1134.5 712V739M1142.1 731V755M1149.8 742V765M1157.4 756V776M1165 753V774M1172.7 767V785M1180.3 760V780M1187.9 769V787M1195.5 779V794M1203.2 783V798M1210.8 799V809M1218.4 784V798M1226 793V804M1233.7 784V798M1241.3 799V809M1248.9 801V810M1264.2 807V813M1271.8 807V813M1287.1 807V813" stroke="#000" stroke-width="4.3" fill="none" shape-rendering="crispEdges"/>
<path d="M779.5 811H788.5M786.5 776H795.5M794.5 762H803.5M802.5 747H811.5M809.5 716H818.5M817.5 696H826.5M824.5 687H833.5M832.5 679H841.5M840.5 679H849.5M847.5 623H856.5M855.5 588H864.5M863.5 602H872.5M870.5 615H879.5M878.5 598H887.5M885.5 559H894.5M893.5 619H902.5M901.5 565H910.5M908.5 596H917.5M916.5 592H925.5M924.5 598H933.5M931.5 569H940.5M939.5 572H948.5M946.5 606H955.5M954.5 536H963.5M962.5 611H971.5M969.5 580H978.5M977.5 592H986.5M985.5 601H994.5M992.5 652H1001.5M1000.5 656H1009.5M1007.5 619H1016.5M1015.5 656H1024.5M1023.5 633H1032.5M1030.5 698H1039.5M1038.5 704H1047.5M1046.5 699H1055.5M1053.5 698H1062.5M1061.5 710H1070.5M1069.5 710H1078.5M1076.5 718H1085.5M1084.5 692H1093.5M1091.5 702H1100.5M1099.5 726H1108.5M1107.5 741H1116.5M1114.5 750H1123.5M1122.5 716H1131.5M1130.5 726H1139.5M1137.5 743H1146.5M1145.5 754H1154.5M1152.5 766H1161.5M1160.5 764H1169.5M1168.5 776H1177.5M1175.5 770H1184.5M1183.5 778H1192.5M1191.5 786H1200.5M1198.5 791H1207.5M1206.5 804H1215.5M1213.5 791H1222.5M1221.5 799H1230.5M1229.5 791H1238.5M1236.5 804H1245.5M1244.5 805H1253.5M1259.5 810H1268.5M1267.5 810H1276.5M1282.5 810H1291.5" stroke="#000" stroke-width="4" fill="none" shape-rendering="crispEdges"/>
<polyline fill="none" stroke="#ff0000" stroke-width="2" stroke-linejoin="miter" shape-rendering="crispEdges" points="783.6,813.5 783.6,812 785.6,812 785.6,794 787.6,794 787.6,783 789.7,783 789.7,777 791.7,777 791.7,771 793.8,771 793.8,763 795.8,763 795.8,755 797.9,755 797.9,749 799.9,749 799.9,745 801.9,745 801.9,739 804,739 804,731 806,731 806,725 808.1,725 808.1,722 810.1,722 810.1,713 812.2,713 812.2,707 814.2,707 814.2,702 816.2,702 816.2,696 818.3,696 818.3,693 820.3,693 820.3,688 822.4,688 822.4,683 824.4,683 824.4,680 826.5,680 826.5,675 828.5,675 828.5,671 830.5,671 830.5,669 832.6,669 832.6,666 834.6,666 834.6,663 836.7,663 836.7,659 838.7,659 838.7,655 840.8,655 840.8,652 842.8,652 842.8,649 844.8,649 844.8,646 846.9,646 846.9,644 848.9,644 848.9,641 851,641 851,638 853,638 853,633 855.1,633 855.1,631 857.1,631 857.1,630 859.1,630 859.1,627 861.2,627 861.2,626 863.2,626 863.2,622 865.3,622 865.3,615 867.3,615 867.3,615 869.4,615 869.4,614 871.4,614 871.4,614 873.4,614 873.4,612 875.5,612 875.5,609 877.5,609 877.5,605 879.6,605 879.6,602 881.6,602 881.6,600 883.7,600 883.7,597 885.7,597 885.7,595 887.7,595 887.7,593 889.8,593 889.8,592 891.8,592 891.8,590 893.9,590 893.9,589 895.9,589 895.9,588 898,588 898,587 900,587 900,585 902,585 902,585 904.1,585 904.1,581 906.1,581 906.1,581 908.2,581 908.2,580 910.2,580 910.2,579 912.3,579 912.3,578 914.3,578 914.3,575 916.3,575 916.3,576 918.4,576 918.4,576 920.4,576 920.4,575 922.5,575 922.5,572 924.5,572 924.5,570 926.6,570 926.6,568 928.6,568 928.6,565 930.6,565 930.6,563 932.7,563 932.7,560 934.7,560 934.7,557 936.8,557 936.8,554 938.8,554 938.8,553 940.9,553 940.9,553 942.9,553 942.9,552 944.9,552 944.9,547 947,547 947,546 949,546 949,546 951.1,546 951.1,539 953.1,539 953.1,539 955.2,539 955.2,539 957.2,539 957.2,539 959.2,539 959.2,539 961.3,539 961.3,540 963.3,540 963.3,541 965.4,541 965.4,544 967.4,544 967.4,546 969.5,546 969.5,548 971.5,548 971.5,552 973.5,552 973.5,556 975.6,556 975.6,561 977.6,561 977.6,567 979.7,567 979.7,573 981.7,573 981.7,579 983.8,579 983.8,586 985.8,586 985.8,595 987.8,595 987.8,603 989.9,603 989.9,618 991.9,618 991.9,625 994,625 994,632 996,632 996,639 998.1,639 998.1,645 1000.1,645 1000.1,651 1002.1,651 1002.1,655 1004.2,655 1004.2,659 1006.2,659 1006.2,663 1008.3,663 1008.3,669 1010.3,669 1010.3,674 1012.4,674 1012.4,678 1014.4,678 1014.4,680 1016.4,680 1016.4,682 1018.5,682 1018.5,686 1020.5,686 1020.5,689 1022.6,689 1022.6,690 1024.6,690 1024.6,691 1026.7,691 1026.7,693 1028.7,693 1028.7,695 1030.7,695 1030.7,697 1032.8,697 1032.8,699 1034.8,699 1034.8,700 1036.9,700 1036.9,702 1038.9,702 1038.9,703 1041,703 1041,704 1043,704 1043,705 1045,705 1045,706 1047.1,706 1047.1,707 1049.1,707 1049.1,708 1051.2,708 1051.2,709 1053.2,709 1053.2,709 1055.3,709 1055.3,710 1057.3,710 1057.3,710 1059.3,710 1059.3,711 1061.4,711 1061.4,712 1063.4,712 1063.4,713 1065.5,713 1065.5,713 1067.5,713 1067.5,712 1069.6,712 1069.6,712 1071.6,712 1071.6,713 1073.6,713 1073.6,714 1075.7,714 1075.7,715 1077.7,715 1077.7,716 1079.8,716 1079.8,717 1081.8,717 1081.8,717 1083.9,717 1083.9,718 1085.9,718 1085.9,719 1087.9,719 1087.9,719 1090,719 1090,721 1092,721 1092,722 1094.1,722 1094.1,723 1096.1,723 1096.1,724 1098.2,724 1098.2,725 1100.2,725 1100.2,725 1102.2,725 1102.2,726 1104.3,726 1104.3,727 1106.3,727 1106.3,729 1108.4,729 1108.4,730 1110.4,730 1110.4,731 1112.5,731 1112.5,733 1114.5,733 1114.5,734 1116.5,734 1116.5,735 1118.6,735 1118.6,736 1120.6,736 1120.6,737 1122.7,737 1122.7,739 1124.7,739 1124.7,742 1126.8,742 1126.8,745 1128.8,745 1128.8,746 1130.8,746 1130.8,748 1132.9,748 1132.9,749 1134.9,749 1134.9,750 1137,750 1137,751 1139,751 1139,753 1141.1,753 1141.1,754 1143.1,754 1143.1,756 1145.1,756 1145.1,757 1147.2,757 1147.2,759 1149.2,759 1149.2,760 1151.3,760 1151.3,762 1153.3,762 1153.3,763 1155.4,763 1155.4,765 1157.4,765 1157.4,766 1159.4,766 1159.4,767 1161.5,767 1161.5,768 1163.5,768 1163.5,769 1165.6,769 1165.6,770 1167.6,770 1167.6,772 1169.7,772 1169.7,774 1171.7,774 1171.7,775 1173.7,775 1173.7,776 1175.8,776 1175.8,777 1177.8,777 1177.8,779 1179.9,779 1179.9,781 1181.9,781 1181.9,781 1184,781 1184,782 1186,782 1186,783 1188,783 1188,784 1190.1,784 1190.1,785 1192.1,785 1192.1,786 1194.2,786 1194.2,787 1196.2,787 1196.2,788 1198.3,788 1198.3,789 1200.3,789 1200.3,791 1202.3,791 1202.3,792 1204.4,792 1204.4,793 1206.4,793 1206.4,794 1208.5,794 1208.5,795 1210.5,795 1210.5,796 1212.6,796 1212.6,796 1214.6,796 1214.6,797 1216.6,797 1216.6,798 1218.7,798 1218.7,799 1220.7,799 1220.7,800 1222.8,800 1222.8,800 1224.8,800 1224.8,800 1226.9,800 1226.9,801 1228.9,801 1228.9,801 1230.9,801 1230.9,801 1233,801 1233,802 1235,802 1235,802 1237.1,802 1237.1,802 1239.1,802 1239.1,803 1241.2,803 1241.2,803 1243.2,803 1243.2,804 1245.2,804 1245.2,804 1247.3,804 1247.3,804 1249.3,804 1249.3,805 1251.4,805 1251.4,805 1253.4,805 1253.4,806 1255.5,806 1255.5,806 1257.5,806 1257.5,807 1259.5,807 1259.5,807 1261.6,807 1261.6,808 1263.6,808 1263.6,808 1265.7,808 1265.7,809 1267.7,809 1267.7,809 1269.8,809 1269.8,810 1271.8,810 1271.8,810 1273.8,810 1273.8,811 1275.9,811 1275.9,812 1277.9,812 1277.9,812 1280,812 1280,812 1282,812 1282,813 1284.1,813 1284.1,813 1286.1,813 1286.1,813 1288.1,813 1288.1,813 1290.2,813 1290.2,813 1292.2,813 1292.2,813 1294.3,813 1294.3,813 1296.3,813 1296.3,813 1298.4,813 1298.4,813.5"/>
</g>
<g clip-path="url(#cp5)">
<clipPath id="cp5"><rect x="179" y="964" width="578" height="310.5"/></clipPath>
<polygon fill="#0000ff" shape-rendering="crispEdges" points="244.5,1274.5 244.5,1272.5 248.4,1272.5 248.4,1272.5 252.2,1272.5 252.2,1272.5 256.1,1272.5 256.1,1272.5 259.9,1272.5 259.9,1272.5 263.8,1272.5 263.8,1272.5 267.6,1272.5 267.6,1272.5 271.5,1272.5 271.5,1272.5 275.3,1272.5 275.3,1272.5 279.2,1272.5 279.2,1272.5 283,1272.5 283,1272.5 286.9,1272.5 286.9,1272.5 290.7,1272.5 290.7,1272.5 294.6,1272.5 294.6,1272.5 298.5,1272.5 298.5,1272 302.3,1272 302.3,1272 306.2,1272 306.2,1272 310,1272 310,1272 313.9,1272 313.9,1272 317.7,1272 317.7,1271 321.6,1271 321.6,1271 325.4,1271 325.4,1271 329.3,1271 329.3,1271 333.1,1271 333.1,1270 337,1270 337,1269 340.8,1269 340.8,1269 344.7,1269 344.7,1269 348.5,1269 348.5,1269 352.4,1269 352.4,1269 356.3,1269 356.3,1268 360.1,1268 360.1,1268 364,1268 364,1268 367.8,1268 367.8,1267 371.7,1267 371.7,1267 375.5,1267 375.5,1267 379.4,1267 379.4,1266 383.2,1266 383.2,1266 387.1,1266 387.1,1265 390.9,1265 390.9,1265 394.8,1265 394.8,1265 398.6,1265 398.6,1264 402.5,1264 402.5,1264 406.3,1264 406.3,1264 410.2,1264 410.2,1263 414.1,1263 414.1,1263 417.9,1263 417.9,1262 421.8,1262 421.8,1262 425.6,1262 425.6,1261 429.5,1261 429.5,1261 433.3,1261 433.3,1261 437.2,1261 437.2,1260 441,1260 441,1261 444.9,1261 444.9,1261 448.7,1261 448.7,1260 452.6,1260 452.6,1260 456.4,1260 456.4,1259 460.3,1259 460.3,1259 464.1,1259 464.1,1258 468,1258 468,1258 471.9,1258 471.9,1257 475.7,1257 475.7,1257 479.6,1257 479.6,1257 483.4,1257 483.4,1257 487.3,1257 487.3,1256 491.1,1256 491.1,1256 495,1256 495,1256 498.8,1256 498.8,1256 502.7,1256 502.7,1255 506.5,1255 506.5,1255 510.4,1255 510.4,1255 514.2,1255 514.2,1254 518.1,1254 518.1,1254 521.9,1254 521.9,1253 525.8,1253 525.8,1253 529.7,1253 529.7,1253 533.5,1253 533.5,1252 537.4,1252 537.4,1252 541.2,1252 541.2,1252 545.1,1252 545.1,1251 548.9,1251 548.9,1251 552.8,1251 552.8,1250 556.6,1250 556.6,1250 560.5,1250 560.5,1249 564.3,1249 564.3,1249 568.2,1249 568.2,1249 572,1249 572,1248 575.9,1248 575.9,1248 579.7,1248 579.7,1247 583.6,1247 583.6,1247 587.5,1247 587.5,1246 591.3,1246 591.3,1245 595.2,1245 595.2,1244 599,1244 599,1243 602.9,1243 602.9,1242 606.7,1242 606.7,1242 610.6,1242 610.6,1241 614.4,1241 614.4,1241 618.3,1241 618.3,1240 622.1,1240 622.1,1239 626,1239 626,1238 629.8,1238 629.8,1237 633.7,1237 633.7,1237 637.5,1237 637.5,1236 641.4,1236 641.4,1236 645.3,1236 645.3,1235 649.1,1235 649.1,1234 653,1234 653,1233 656.8,1233 656.8,1233 660.7,1233 660.7,1233 664.5,1233 664.5,1232 668.4,1232 668.4,1232 672.2,1232 672.2,1231 676.1,1231 676.1,1232 679.9,1232 679.9,1232 683.8,1232 683.8,1233 687.6,1233 687.6,1234 691.5,1234 691.5,1234 695.3,1234 695.3,1236 699.2,1236 699.2,1238 703.1,1238 703.1,1241 706.9,1241 706.9,1245 710.8,1245 710.8,1249 714.6,1249 714.6,1253 718.5,1253 718.5,1258 722.3,1258 722.3,1264 726.2,1264 726.2,1274.5"/>
<path d="M213.7 1263V1273M221.4 1267V1275M229.1 1259V1271M236.8 1262V1272M244.5 1252V1267M252.2 1252V1267M259.9 1263V1273M267.6 1263V1273M275.3 1255V1268M283 1255V1268M290.7 1255V1268M298.5 1252V1266M306.2 1248V1264M313.9 1252V1266M321.6 1255V1269M329.3 1240V1258M337 1252V1267M344.7 1236V1256M352.4 1234V1254M360.1 1244V1261M367.8 1222V1245M375.5 1255V1268M383.2 1229V1250M390.9 1222V1245M398.6 1245V1261M406.3 1233V1254M414.1 1233V1254M421.8 1237V1256M429.5 1226V1248M437.2 1212V1237M444.9 1194V1224M452.6 1222V1245M460.3 1194V1223M468 1205V1232M475.7 1171V1204M483.4 1167V1201M491.1 1167V1201M498.8 1144V1182M506.5 1120V1161M514.2 1120V1161M521.9 1137V1176M529.7 1133V1173M537.4 1120V1161M545.1 1090V1136M552.8 1137V1176M560.5 1130V1170M568.2 1116V1158M575.9 1130V1170M583.6 1116V1158M591.3 1110V1152M599 1103V1147M606.7 1076V1124M614.4 1063V1112M622.1 1104V1147M629.8 1057V1107M637.5 1063V1112M645.3 1046V1097M653 988V1045M660.7 998V1054M668.4 1008V1063M676.1 1031V1083M683.8 1067V1115M691.5 1044V1095M699.2 1083V1130M706.9 1107V1150M714.6 1188V1218M722.3 1237V1256" stroke="#000" stroke-width="4.3" fill="none" shape-rendering="crispEdges"/>
<path d="M209.5 1268H218.5M216.5 1271H225.5M224.5 1265H233.5M232.5 1267H241.5M240.5 1259H249.5M247.5 1259H256.5M255.5 1268H264.5M263.5 1268H272.5M270.5 1262H279.5M278.5 1262H287.5M286.5 1262H295.5M293.5 1259H302.5M301.5 1256H310.5M309.5 1259H318.5M317.5 1262H326.5M324.5 1249H333.5M332.5 1259H341.5M340.5 1246H349.5M347.5 1244H356.5M355.5 1253H364.5M363.5 1234H372.5M371.5 1262H380.5M378.5 1239H387.5M386.5 1234H395.5M394.5 1253H403.5M401.5 1243H410.5M409.5 1243H418.5M417.5 1246H426.5M424.5 1237H433.5M432.5 1224H441.5M440.5 1209H449.5M448.5 1234H457.5M455.5 1209H464.5M463.5 1218H472.5M471.5 1187H480.5M478.5 1184H487.5M486.5 1184H495.5M494.5 1163H503.5M502.5 1141H511.5M509.5 1141H518.5M517.5 1156H526.5M525.5 1153H534.5M532.5 1141H541.5M540.5 1113H549.5M548.5 1156H557.5M555.5 1150H564.5M563.5 1137H572.5M571.5 1150H580.5M579.5 1137H588.5M586.5 1131H595.5M594.5 1125H603.5M602.5 1100H611.5M609.5 1088H618.5M617.5 1126H626.5M625.5 1082H634.5M633.5 1088H642.5M640.5 1072H649.5M648.5 1017H657.5M656.5 1026H665.5M663.5 1035H672.5M671.5 1057H680.5M679.5 1091H688.5M686.5 1070H695.5M694.5 1106H703.5M702.5 1129H711.5M710.5 1203H719.5M717.5 1246H726.5" stroke="#000" stroke-width="4" fill="none" shape-rendering="crispEdges"/>
<polyline fill="none" stroke="#ff0000" stroke-width="2" stroke-linejoin="miter" shape-rendering="crispEdges" points="202.1,1274.5 202.1,1274 206,1274 206,1273 209.8,1273 209.8,1273 213.7,1273 213.7,1272 217.5,1272 217.5,1272 221.4,1272 221.4,1272 225.2,1272 225.2,1272 229.1,1272 229.1,1271 232.9,1271 232.9,1271 236.8,1271 236.8,1270 240.7,1270 240.7,1270 244.5,1270 244.5,1269 248.4,1269 248.4,1268 252.2,1268 252.2,1268 256.1,1268 256.1,1268 259.9,1268 259.9,1268 263.8,1268 263.8,1268 267.6,1268 267.6,1268 271.5,1268 271.5,1268 275.3,1268 275.3,1268 279.2,1268 279.2,1268 283,1268 283,1268 286.9,1268 286.9,1268 290.7,1268 290.7,1268 294.6,1268 294.6,1267 298.5,1267 298.5,1266 302.3,1266 302.3,1265 306.2,1265 306.2,1264 310,1264 310,1264 313.9,1264 313.9,1263 317.7,1263 317.7,1263 321.6,1263 321.6,1262 325.4,1262 325.4,1261 329.3,1261 329.3,1260 333.1,1260 333.1,1260 337,1260 337,1259 340.8,1259 340.8,1259 344.7,1259 344.7,1258 348.5,1258 348.5,1258 352.4,1258 352.4,1256 356.3,1256 356.3,1255 360.1,1255 360.1,1254 364,1254 364,1252 367.8,1252 367.8,1251 371.7,1251 371.7,1250 375.5,1250 375.5,1249 379.4,1249 379.4,1249 383.2,1249 383.2,1247 387.1,1247 387.1,1246 390.9,1246 390.9,1245 394.8,1245 394.8,1244 398.6,1244 398.6,1242 402.5,1242 402.5,1241 406.3,1241 406.3,1239 410.2,1239 410.2,1237 414.1,1237 414.1,1236 417.9,1236 417.9,1234 421.8,1234 421.8,1232 425.6,1232 425.6,1229 429.5,1229 429.5,1227 433.3,1227 433.3,1223 437.2,1223 437.2,1219 441,1219 441,1216 444.9,1216 444.9,1212 448.7,1212 448.7,1209 452.6,1209 452.6,1205 456.4,1205 456.4,1199 460.3,1199 460.3,1194 464.1,1194 464.1,1190 468,1190 468,1186 471.9,1186 471.9,1179 475.7,1179 475.7,1173 479.6,1173 479.6,1169 483.4,1169 483.4,1167 487.3,1167 487.3,1162 491.1,1162 491.1,1159 495,1159 495,1155 498.8,1155 498.8,1152 502.7,1152 502.7,1151 506.5,1151 506.5,1149 510.4,1149 510.4,1148 514.2,1148 514.2,1147 518.1,1147 518.1,1147 521.9,1147 521.9,1147 525.8,1147 525.8,1146 529.7,1146 529.7,1146 533.5,1146 533.5,1146 537.4,1146 537.4,1146 541.2,1146 541.2,1147 545.1,1147 545.1,1146 548.9,1146 548.9,1147 552.8,1147 552.8,1148 556.6,1148 556.6,1147 560.5,1147 560.5,1146 564.3,1146 564.3,1146 568.2,1146 568.2,1146 572,1146 572,1144 575.9,1144 575.9,1143 579.7,1143 579.7,1141 583.6,1141 583.6,1140 587.5,1140 587.5,1138 591.3,1138 591.3,1136 595.2,1136 595.2,1134 599,1134 599,1129 602.9,1129 602.9,1128 606.7,1128 606.7,1125 610.6,1125 610.6,1122 614.4,1122 614.4,1118 618.3,1118 618.3,1113 622.1,1113 622.1,1107 626,1107 626,1102 629.8,1102 629.8,1096 633.7,1096 633.7,1090 637.5,1090 637.5,1084 641.4,1084 641.4,1079 645.3,1079 645.3,1071 649.1,1071 649.1,1065 653,1065 653,1057 656.8,1057 656.8,1052 660.7,1052 660.7,1044 664.5,1044 664.5,1041 668.4,1041 668.4,1036 672.2,1036 672.2,1034 676.1,1034 676.1,1034 679.9,1034 679.9,1036 683.8,1036 683.8,1040 687.6,1040 687.6,1049 691.5,1049 691.5,1054 695.3,1054 695.3,1067 699.2,1067 699.2,1081 703.1,1081 703.1,1103 706.9,1103 706.9,1128 710.8,1128 710.8,1163 714.6,1163 714.6,1199 718.5,1199 718.5,1231 722.3,1231 722.3,1258 726.2,1258 726.2,1269 730,1269 730,1274 733.9,1274 733.9,1274 737.7,1274 737.7,1274.5"/>
</g>
<g clip-path="url(#cp6)">
<clipPath id="cp6"><rect x="757" y="964" width="572" height="310.5"/></clipPath>
<polygon fill="#0000ff" shape-rendering="crispEdges" points="833.3,1274.5 833.3,1272.5 837.1,1272.5 837.1,1272.5 840.9,1272.5 840.9,1272.5 844.7,1272.5 844.7,1272.5 848.5,1272.5 848.5,1272.5 852.3,1272.5 852.3,1272.5 856.1,1272.5 856.1,1272.5 860,1272.5 860,1272 863.8,1272 863.8,1272 867.6,1272 867.6,1272 871.4,1272 871.4,1272 875.2,1272 875.2,1271 879,1271 879,1271 882.8,1271 882.8,1271 886.7,1271 886.7,1271 890.5,1271 890.5,1271 894.3,1271 894.3,1271 898.1,1271 898.1,1270 901.9,1270 901.9,1270 905.7,1270 905.7,1269 909.5,1269 909.5,1269 913.3,1269 913.3,1269 917.2,1269 917.2,1268 921,1268 921,1268 924.8,1268 924.8,1268 928.6,1268 928.6,1267 932.4,1267 932.4,1267 936.2,1267 936.2,1267 940,1267 940,1266 943.9,1266 943.9,1266 947.7,1266 947.7,1265 951.5,1265 951.5,1265 955.3,1265 955.3,1264 959.1,1264 959.1,1264 962.9,1264 962.9,1264 966.7,1264 966.7,1263 970.5,1263 970.5,1263 974.4,1263 974.4,1262 978.2,1262 978.2,1261 982,1261 982,1260 985.8,1260 985.8,1260 989.6,1260 989.6,1260 993.4,1260 993.4,1259 997.2,1259 997.2,1259 1001.1,1259 1001.1,1258 1004.9,1258 1004.9,1258 1008.7,1258 1008.7,1257 1012.5,1257 1012.5,1256 1016.3,1256 1016.3,1256 1020.1,1256 1020.1,1255 1023.9,1255 1023.9,1255 1027.7,1255 1027.7,1254 1031.6,1254 1031.6,1254 1035.4,1254 1035.4,1254 1039.2,1254 1039.2,1253 1043,1253 1043,1253 1046.8,1253 1046.8,1252 1050.6,1252 1050.6,1252 1054.4,1252 1054.4,1251 1058.3,1251 1058.3,1251 1062.1,1251 1062.1,1250 1065.9,1250 1065.9,1250 1069.7,1250 1069.7,1249 1073.5,1249 1073.5,1249 1077.3,1249 1077.3,1249 1081.1,1249 1081.1,1248 1084.9,1248 1084.9,1248 1088.8,1248 1088.8,1248 1092.6,1248 1092.6,1247 1096.4,1247 1096.4,1247 1100.2,1247 1100.2,1247 1104,1247 1104,1246 1107.8,1246 1107.8,1246 1111.6,1246 1111.6,1245 1115.5,1245 1115.5,1245 1119.3,1245 1119.3,1245 1123.1,1245 1123.1,1244 1126.9,1244 1126.9,1244 1130.7,1244 1130.7,1244 1134.5,1244 1134.5,1243 1138.3,1243 1138.3,1243 1142.1,1243 1142.1,1243 1146,1243 1146,1243 1149.8,1243 1149.8,1242 1153.6,1242 1153.6,1242 1157.4,1242 1157.4,1242 1161.2,1242 1161.2,1242 1165,1242 1165,1241 1168.8,1241 1168.8,1241 1172.7,1241 1172.7,1240 1176.5,1240 1176.5,1241 1180.3,1241 1180.3,1241 1184.1,1241 1184.1,1241 1187.9,1241 1187.9,1241 1191.7,1241 1191.7,1241 1195.5,1241 1195.5,1241 1199.3,1241 1199.3,1242 1203.2,1242 1203.2,1241 1207,1241 1207,1241 1210.8,1241 1210.8,1241 1214.6,1241 1214.6,1241 1218.4,1241 1218.4,1241 1222.2,1241 1222.2,1242 1226,1242 1226,1242 1229.9,1242 1229.9,1242 1233.7,1242 1233.7,1243 1237.5,1243 1237.5,1244 1241.3,1244 1241.3,1244 1245.1,1244 1245.1,1245 1248.9,1245 1248.9,1247 1252.7,1247 1252.7,1248 1256.5,1248 1256.5,1249 1260.4,1249 1260.4,1251 1264.2,1251 1264.2,1252 1268,1252 1268,1254 1271.8,1254 1271.8,1257 1275.6,1257 1275.6,1259 1279.4,1259 1279.4,1262 1283.2,1262 1283.2,1265 1287.1,1265 1287.1,1268 1290.9,1268 1290.9,1272 1294.7,1272 1294.7,1274.5"/>
<path d="M783.7 1267V1275M806.6 1259V1271M829.5 1267V1274M837.1 1259V1271M844.7 1259V1271M852.3 1247V1263M860 1247V1263M867.6 1259V1271M875.2 1247V1263M882.8 1247V1263M890.5 1259V1271M898.1 1222V1245M905.7 1229V1251M913.3 1236V1256M921 1236V1256M928.6 1219V1243M936.2 1222V1245M943.9 1226V1248M951.5 1233V1254M959.1 1208V1234M966.7 1222V1245M974.4 1201V1229M982 1229V1250M989.6 1215V1239M997.2 1194V1224M1004.9 1198V1226M1012.5 1164V1198M1020.1 1184V1215M1027.7 1198V1226M1035.4 1198V1226M1043 1150V1187M1050.6 1154V1190M1058.3 1164V1198M1065.9 1137V1176M1073.5 1147V1184M1081.1 1113V1156M1088.8 1113V1156M1096.4 1044V1095M1104 1103V1147M1111.6 1077V1124M1119.3 1103V1147M1126.9 1087V1133M1134.5 1070V1118M1142.1 1097V1142M1149.8 1113V1156M1157.4 1083V1130M1165 1057V1107M1172.7 1063V1112M1180.3 1067V1115M1187.9 1060V1109M1195.5 1040V1092M1203.2 1083V1130M1210.8 1073V1121M1218.4 1067V1115M1226 1077V1124M1233.7 1093V1138M1241.3 1113V1156M1248.9 1127V1167M1256.5 1133V1173M1264.2 1154V1190M1271.8 1170V1204M1279.4 1226V1248M1287.1 1248V1264" stroke="#000" stroke-width="4.3" fill="none" shape-rendering="crispEdges"/>
<path d="M779.5 1271H788.5M802.5 1265H811.5M824.5 1270H833.5M832.5 1265H841.5M840.5 1265H849.5M847.5 1255H856.5M855.5 1255H864.5M863.5 1265H872.5M870.5 1255H879.5M878.5 1255H887.5M885.5 1265H894.5M893.5 1234H902.5M901.5 1240H910.5M908.5 1246H917.5M916.5 1246H925.5M924.5 1231H933.5M931.5 1234H940.5M939.5 1237H948.5M946.5 1243H955.5M954.5 1221H963.5M962.5 1234H971.5M969.5 1215H978.5M977.5 1240H986.5M985.5 1227H994.5M992.5 1209H1001.5M1000.5 1212H1009.5M1007.5 1181H1016.5M1015.5 1200H1024.5M1023.5 1212H1032.5M1030.5 1212H1039.5M1038.5 1168H1047.5M1046.5 1172H1055.5M1053.5 1181H1062.5M1061.5 1156H1070.5M1069.5 1166H1078.5M1076.5 1134H1085.5M1084.5 1134H1093.5M1091.5 1069H1100.5M1099.5 1125H1108.5M1107.5 1100H1116.5M1114.5 1125H1123.5M1122.5 1110H1131.5M1130.5 1094H1139.5M1137.5 1119H1146.5M1145.5 1134H1154.5M1152.5 1106H1161.5M1160.5 1082H1169.5M1168.5 1087H1177.5M1175.5 1091H1184.5M1183.5 1085H1192.5M1191.5 1066H1200.5M1198.5 1106H1207.5M1206.5 1097H1215.5M1213.5 1091H1222.5M1221.5 1100H1230.5M1229.5 1116H1238.5M1236.5 1134H1245.5M1244.5 1147H1253.5M1252.5 1153H1261.5M1259.5 1172H1268.5M1267.5 1187H1276.5M1274.5 1237H1283.5M1282.5 1256H1291.5" stroke="#000" stroke-width="4" fill="none" shape-rendering="crispEdges"/>
<polyline fill="none" stroke="#ff0000" stroke-width="2" stroke-linejoin="miter" shape-rendering="crispEdges" points="783.7,1274.5 783.7,1274 787.5,1274 787.5,1273 791.3,1273 791.3,1273 795.1,1273 795.1,1272 798.9,1272 798.9,1272 802.8,1272 802.8,1272 806.6,1272 806.6,1271 810.4,1271 810.4,1271 814.2,1271 814.2,1271 818,1271 818,1270 821.8,1270 821.8,1269 825.6,1269 825.6,1269 829.5,1269 829.5,1268 833.3,1268 833.3,1268 837.1,1268 837.1,1267 840.9,1267 840.9,1267 844.7,1267 844.7,1266 848.5,1266 848.5,1265 852.3,1265 852.3,1264 856.1,1264 856.1,1264 860,1264 860,1263 863.8,1263 863.8,1262 867.6,1262 867.6,1261 871.4,1261 871.4,1260 875.2,1260 875.2,1259 879,1259 879,1258 882.8,1258 882.8,1257 886.7,1257 886.7,1256 890.5,1256 890.5,1255 894.3,1255 894.3,1254 898.1,1254 898.1,1254 901.9,1254 901.9,1253 905.7,1253 905.7,1252 909.5,1252 909.5,1251 913.3,1251 913.3,1249 917.2,1249 917.2,1248 921,1248 921,1247 924.8,1247 924.8,1245 928.6,1245 928.6,1244 932.4,1244 932.4,1242 936.2,1242 936.2,1241 940,1241 940,1239 943.9,1239 943.9,1238 947.7,1238 947.7,1237 951.5,1237 951.5,1235 955.3,1235 955.3,1233 959.1,1233 959.1,1231 962.9,1231 962.9,1230 966.7,1230 966.7,1228 970.5,1228 970.5,1226 974.4,1226 974.4,1224 978.2,1224 978.2,1221 982,1221 982,1219 985.8,1219 985.8,1216 989.6,1216 989.6,1214 993.4,1214 993.4,1211 997.2,1211 997.2,1208 1001.1,1208 1001.1,1206 1004.9,1206 1004.9,1203 1008.7,1203 1008.7,1200 1012.5,1200 1012.5,1199 1016.3,1199 1016.3,1198 1020.1,1198 1020.1,1191 1023.9,1191 1023.9,1187 1027.7,1187 1027.7,1183 1031.6,1183 1031.6,1180 1035.4,1180 1035.4,1177 1039.2,1177 1039.2,1173 1043,1173 1043,1169 1046.8,1169 1046.8,1165 1050.6,1165 1050.6,1161 1054.4,1161 1054.4,1157 1058.3,1157 1058.3,1154 1062.1,1154 1062.1,1150 1065.9,1150 1065.9,1146 1069.7,1146 1069.7,1142 1073.5,1142 1073.5,1139 1077.3,1139 1077.3,1136 1081.1,1136 1081.1,1133 1084.9,1133 1084.9,1130 1088.8,1130 1088.8,1127 1092.6,1127 1092.6,1124 1096.4,1124 1096.4,1121 1100.2,1121 1100.2,1119 1104,1119 1104,1116 1107.8,1116 1107.8,1113 1111.6,1113 1111.6,1112 1115.5,1112 1115.5,1112 1119.3,1112 1119.3,1109 1123.1,1109 1123.1,1107 1126.9,1107 1126.9,1104 1130.7,1104 1130.7,1102 1134.5,1102 1134.5,1099 1138.3,1099 1138.3,1097 1142.1,1097 1142.1,1096 1146,1096 1146,1095 1149.8,1095 1149.8,1095 1153.6,1095 1153.6,1092 1157.4,1092 1157.4,1091 1161.2,1091 1161.2,1092 1165,1092 1165,1089 1168.8,1089 1168.8,1088 1172.7,1088 1172.7,1088 1176.5,1088 1176.5,1089 1180.3,1089 1180.3,1090 1184.1,1090 1184.1,1089 1187.9,1089 1187.9,1089 1191.7,1089 1191.7,1092 1195.5,1092 1195.5,1094 1199.3,1094 1199.3,1096 1203.2,1096 1203.2,1098 1207,1098 1207,1100 1210.8,1100 1210.8,1102 1214.6,1102 1214.6,1107 1218.4,1107 1218.4,1111 1222.2,1111 1222.2,1114 1226,1114 1226,1119 1229.9,1119 1229.9,1126 1233.7,1126 1233.7,1132 1237.5,1132 1237.5,1135 1241.3,1135 1241.3,1139 1245.1,1139 1245.1,1147 1248.9,1147 1248.9,1151 1252.7,1151 1252.7,1157 1256.5,1157 1256.5,1165 1260.4,1165 1260.4,1173 1264.2,1173 1264.2,1181 1268,1181 1268,1189 1271.8,1189 1271.8,1199 1275.6,1199 1275.6,1211 1279.4,1211 1279.4,1229 1283.2,1229 1283.2,1244 1287.1,1244 1287.1,1257 1290.9,1257 1290.9,1266 1294.7,1266 1294.7,1272 1298.5,1272 1298.5,1273 1302.3,1273 1302.3,1274.5"/>
</g>
<rect x="504" y="43" width="217" height="136.6" fill="#fff" stroke="#000" stroke-width="2" shape-rendering="crispEdges"/>
<path d="M511.5 65.5H551.5" stroke="#000" stroke-width="5"/><path d="M531 51V78.5" stroke="#000" stroke-width="4.2"/>
<path d="M511.5 110.8H551" stroke="#ff0000" stroke-width="2.2"/>
<rect x="511" y="139.8" width="40" height="33.8" fill="#0000ff"/>
<text transform="translate(558.7 74.6) scale(0.962 1)" font-size="28.7" font-family='"Liberation Sans", Arial, Helvetica, sans-serif'>Data</text>
<text transform="translate(558.7 120.6) scale(0.962 1)" font-size="28.7" font-family='"Liberation Sans", Arial, Helvetica, sans-serif'>Fit</text>
<text transform="translate(558.7 163.4) scale(0.962 1)" font-size="28.7" font-family='"Liberation Sans", Arial, Helvetica, sans-serif'>Background</text>
<path d="M217.5 353v-11M217.5 43v11M256.1 353v-5M256.1 43v5M294.6 353v-5M294.6 43v5M333.1 353v-5M333.1 43v5M371.7 353v-5M371.7 43v5M410.2 353v-11M410.2 43v11M448.7 353v-5M448.7 43v5M487.3 353v-5M487.3 43v5M525.8 353v-5M525.8 43v5M564.3 353v-5M564.3 43v5M602.9 353v-11M602.9 43v11M641.4 353v-5M641.4 43v5M679.9 353v-5M679.9 43v5M718.5 353v-5M718.5 43v5M179 340.1h8M757 340.1h-8M179 327.2h8M757 327.2h-8M179 314.2h8M757 314.2h-8M179 301.3h8M757 301.3h-8M179 288.4h15.5M757 288.4h-15.5M179 275.5h8M757 275.5h-8M179 262.6h8M757 262.6h-8M179 249.7h8M757 249.7h-8M179 236.8h8M757 236.8h-8M179 223.8h15.5M757 223.8h-15.5M179 210.9h8M757 210.9h-8M179 198h8M757 198h-8M179 185.1h8M757 185.1h-8M179 172.2h8M757 172.2h-8M179 159.2h15.5M757 159.2h-15.5M179 146.3h8M757 146.3h-8M179 133.4h8M757 133.4h-8M179 120.5h8M757 120.5h-8M179 107.6h8M757 107.6h-8M179 94.7h15.5M757 94.7h-15.5M179 81.8h8M757 81.8h-8M179 68.8h8M757 68.8h-8M179 55.9h8M757 55.9h-8" stroke="#000" stroke-width="2" fill="none" shape-rendering="crispEdges"/>
<text x="187.8" y="391" font-size="42.8" font-family='"Liberation Sans", Arial, Helvetica, sans-serif'>0.5</text>
<text x="402.3" y="391" font-size="42.8" font-family='"Liberation Sans", Arial, Helvetica, sans-serif'>1</text>
<path d="M404.4 386.9h8.4v5.2h-8.4zM417.1 386.9h8.1v5.2h-8.1z" fill="#fff"/>
<text x="573.1" y="391" font-size="42.8" font-family='"Liberation Sans", Arial, Helvetica, sans-serif'>1.5</text>
<path d="M575.3 386.9h8.4v5.2h-8.4zM587.9 386.9h8.1v5.2h-8.1z" fill="#fff"/>
<text x="157.8" y="365.2" font-size="35" font-family='"Liberation Sans", Arial, Helvetica, sans-serif'>0</text>
<text x="138.4" y="300.6" font-size="35" font-family='"Liberation Sans", Arial, Helvetica, sans-serif'>50</text>
<text x="118.9" y="236" font-size="35" font-family='"Liberation Sans", Arial, Helvetica, sans-serif'>100</text>
<path d="M120.7 232.5h6.8v4.6h-6.8zM131.1 232.5h6.7v4.6h-6.7z" fill="#fff"/>
<text x="118.9" y="171.4" font-size="35" font-family='"Liberation Sans", Arial, Helvetica, sans-serif'>150</text>
<path d="M120.7 167.9h6.8v4.6h-6.8zM131.1 167.9h6.7v4.6h-6.7z" fill="#fff"/>
<text x="118.9" y="106.9" font-size="35" font-family='"Liberation Sans", Arial, Helvetica, sans-serif'>200</text>
<path d="M795.1 353v-7.2M795.1 43v7.2M833.3 353v-7.2M833.3 43v7.2M871.4 353v-13M871.4 43v13M909.5 353v-7.2M909.5 43v7.2M947.7 353v-7.2M947.7 43v7.2M985.8 353v-7.2M985.8 43v7.2M1023.9 353v-7.2M1023.9 43v7.2M1062.1 353v-13M1062.1 43v13M1100.2 353v-7.2M1100.2 43v7.2M1138.3 353v-7.2M1138.3 43v7.2M1176.5 353v-7.2M1176.5 43v7.2M1214.6 353v-7.2M1214.6 43v7.2M1252.7 353v-13M1252.7 43v13M1290.9 353v-7.2M1290.9 43v7.2M757 337.5h6.7M1329 337.5h-8.1M757 322h6.7M1329 322h-8.1M757 306.5h6.7M1329 306.5h-8.1M757 291h12.7M1329 291h-14.1M757 275.5h6.7M1329 275.5h-8.1M757 260h6.7M1329 260h-8.1M757 244.5h6.7M1329 244.5h-8.1M757 229h12.7M1329 229h-14.1M757 213.5h6.7M1329 213.5h-8.1M757 198h6.7M1329 198h-8.1M757 182.5h6.7M1329 182.5h-8.1M757 167h12.7M1329 167h-14.1M757 151.5h6.7M1329 151.5h-8.1M757 136h6.7M1329 136h-8.1M757 120.5h6.7M1329 120.5h-8.1M757 105h12.7M1329 105h-14.1M757 89.5h6.7M1329 89.5h-8.1M757 74h6.7M1329 74h-8.1M757 58.5h6.7M1329 58.5h-8.1" stroke="#000" stroke-width="2" fill="none" shape-rendering="crispEdges"/>
<text x="841.7" y="391" font-size="42.8" font-family='"Liberation Sans", Arial, Helvetica, sans-serif'>0.5</text>
<text x="1054.2" y="391" font-size="42.8" font-family='"Liberation Sans", Arial, Helvetica, sans-serif'>1</text>
<path d="M1056.3 386.9h8.4v5.2h-8.4zM1069 386.9h8.1v5.2h-8.1z" fill="#fff"/>
<text x="1223" y="391" font-size="42.8" font-family='"Liberation Sans", Arial, Helvetica, sans-serif'>1.5</text>
<path d="M1225.1 386.9h8.4v5.2h-8.4zM1237.8 386.9h8.1v5.2h-8.1z" fill="#fff"/>
<path d="M217.5 813.5v-5M217.5 503v5M256.1 813.5v-5M256.1 503v5M294.6 813.5v-11M294.6 503v11M333.1 813.5v-5M333.1 503v5M371.7 813.5v-5M371.7 503v5M410.2 813.5v-5M410.2 503v5M448.7 813.5v-5M448.7 503v5M487.3 813.5v-11M487.3 503v11M525.8 813.5v-5M525.8 503v5M564.3 813.5v-5M564.3 503v5M602.9 813.5v-5M602.9 503v5M641.4 813.5v-5M641.4 503v5M679.9 813.5v-11M679.9 503v11M718.5 813.5v-5M718.5 503v5M179 792.8h8M757 792.8h-8M179 772.1h8M757 772.1h-8M179 751.4h8M757 751.4h-8M179 730.7h8M757 730.7h-8M179 710h15.5M757 710h-15.5M179 689.3h8M757 689.3h-8M179 668.6h8M757 668.6h-8M179 647.9h8M757 647.9h-8M179 627.2h8M757 627.2h-8M179 606.5h15.5M757 606.5h-15.5M179 585.8h8M757 585.8h-8M179 565.1h8M757 565.1h-8M179 544.4h8M757 544.4h-8M179 523.7h8M757 523.7h-8" stroke="#000" stroke-width="2" fill="none" shape-rendering="crispEdges"/>
<text x="264.9" y="851.5" font-size="42.8" font-family='"Liberation Sans", Arial, Helvetica, sans-serif'>0.5</text>
<text x="479.4" y="851.5" font-size="42.8" font-family='"Liberation Sans", Arial, Helvetica, sans-serif'>1</text>
<path d="M481.5 847.4h8.4v5.2h-8.4zM494.2 847.4h8.1v5.2h-8.1z" fill="#fff"/>
<text x="650.2" y="851.5" font-size="42.8" font-family='"Liberation Sans", Arial, Helvetica, sans-serif'>1.5</text>
<path d="M652.3 847.4h8.4v5.2h-8.4zM665 847.4h8.1v5.2h-8.1z" fill="#fff"/>
<text x="157.8" y="825.7" font-size="35" font-family='"Liberation Sans", Arial, Helvetica, sans-serif'>0</text>
<text x="138.4" y="722.2" font-size="35" font-family='"Liberation Sans", Arial, Helvetica, sans-serif'>50</text>
<text x="118.9" y="618.7" font-size="35" font-family='"Liberation Sans", Arial, Helvetica, sans-serif'>100</text>
<path d="M120.7 615.2h6.8v4.6h-6.8zM131.1 615.2h6.7v4.6h-6.7z" fill="#fff"/>
<text x="118.9" y="515.2" font-size="35" font-family='"Liberation Sans", Arial, Helvetica, sans-serif'>150</text>
<path d="M120.7 511.7h6.8v4.6h-6.8zM131.1 511.7h6.7v4.6h-6.7z" fill="#fff"/>
<path d="M795.1 813.5v-7.2M795.1 503v7.2M833.3 813.5v-7.2M833.3 503v7.2M871.4 813.5v-13M871.4 503v13M909.5 813.5v-7.2M909.5 503v7.2M947.7 813.5v-7.2M947.7 503v7.2M985.8 813.5v-7.2M985.8 503v7.2M1023.9 813.5v-7.2M1023.9 503v7.2M1062.1 813.5v-13M1062.1 503v13M1100.2 813.5v-7.2M1100.2 503v7.2M1138.3 813.5v-7.2M1138.3 503v7.2M1176.5 813.5v-7.2M1176.5 503v7.2M1214.6 813.5v-7.2M1214.6 503v7.2M1252.7 813.5v-13M1252.7 503v13M1290.9 813.5v-7.2M1290.9 503v7.2M757 792.8h6.7M1329 792.8h-8.1M757 772.1h6.7M1329 772.1h-8.1M757 751.4h6.7M1329 751.4h-8.1M757 730.7h6.7M1329 730.7h-8.1M757 710h12.7M1329 710h-14.1M757 689.3h6.7M1329 689.3h-8.1M757 668.6h6.7M1329 668.6h-8.1M757 647.9h6.7M1329 647.9h-8.1M757 627.2h6.7M1329 627.2h-8.1M757 606.5h12.7M1329 606.5h-14.1M757 585.8h6.7M1329 585.8h-8.1M757 565.1h6.7M1329 565.1h-8.1M757 544.4h6.7M1329 544.4h-8.1M757 523.7h6.7M1329 523.7h-8.1" stroke="#000" stroke-width="2" fill="none" shape-rendering="crispEdges"/>
<text x="841.7" y="851.5" font-size="42.8" font-family='"Liberation Sans", Arial, Helvetica, sans-serif'>0.5</text>
<text x="1054.2" y="851.5" font-size="42.8" font-family='"Liberation Sans", Arial, Helvetica, sans-serif'>1</text>
<path d="M1056.3 847.4h8.4v5.2h-8.4zM1069 847.4h8.1v5.2h-8.1z" fill="#fff"/>
<text x="1223" y="851.5" font-size="42.8" font-family='"Liberation Sans", Arial, Helvetica, sans-serif'>1.5</text>
<path d="M1225.1 847.4h8.4v5.2h-8.4zM1237.8 847.4h8.1v5.2h-8.1z" fill="#fff"/>
<path d="M217.5 1274.5v-11M217.5 964v11M256.1 1274.5v-5M256.1 964v5M294.6 1274.5v-5M294.6 964v5M333.1 1274.5v-5M333.1 964v5M371.7 1274.5v-5M371.7 964v5M410.2 1274.5v-11M410.2 964v11M448.7 1274.5v-5M448.7 964v5M487.3 1274.5v-5M487.3 964v5M525.8 1274.5v-5M525.8 964v5M564.3 1274.5v-5M564.3 964v5M602.9 1274.5v-11M602.9 964v11M641.4 1274.5v-5M641.4 964v5M679.9 1274.5v-5M679.9 964v5M718.5 1274.5v-5M718.5 964v5M179 1259h8M757 1259h-8M179 1243.5h8M757 1243.5h-8M179 1227.9h8M757 1227.9h-8M179 1212.4h15.5M757 1212.4h-15.5M179 1196.9h8M757 1196.9h-8M179 1181.3h8M757 1181.3h-8M179 1165.8h8M757 1165.8h-8M179 1150.3h15.5M757 1150.3h-15.5M179 1134.8h8M757 1134.8h-8M179 1119.2h8M757 1119.2h-8M179 1103.7h8M757 1103.7h-8M179 1088.2h15.5M757 1088.2h-15.5M179 1072.7h8M757 1072.7h-8M179 1057.2h8M757 1057.2h-8M179 1041.6h8M757 1041.6h-8M179 1026.1h15.5M757 1026.1h-15.5M179 1010.6h8M757 1010.6h-8M179 995h8M757 995h-8M179 979.5h8M757 979.5h-8" stroke="#000" stroke-width="2" fill="none" shape-rendering="crispEdges"/>
<text x="187.8" y="1312.5" font-size="42.8" font-family='"Liberation Sans", Arial, Helvetica, sans-serif'>0.5</text>
<text x="402.3" y="1312.5" font-size="42.8" font-family='"Liberation Sans", Arial, Helvetica, sans-serif'>1</text>
<path d="M404.4 1308.4h8.4v5.2h-8.4zM417.1 1308.4h8.1v5.2h-8.1z" fill="#fff"/>
<text x="573.1" y="1312.5" font-size="42.8" font-family='"Liberation Sans", Arial, Helvetica, sans-serif'>1.5</text>
<path d="M575.3 1308.4h8.4v5.2h-8.4zM587.9 1308.4h8.1v5.2h-8.1z" fill="#fff"/>
<text x="157.8" y="1286.7" font-size="35" font-family='"Liberation Sans", Arial, Helvetica, sans-serif'>0</text>
<text x="138.4" y="1224.6" font-size="35" font-family='"Liberation Sans", Arial, Helvetica, sans-serif'>20</text>
<text x="138.4" y="1162.5" font-size="35" font-family='"Liberation Sans", Arial, Helvetica, sans-serif'>40</text>
<text x="138.4" y="1100.4" font-size="35" font-family='"Liberation Sans", Arial, Helvetica, sans-serif'>60</text>
<text x="138.4" y="1038.3" font-size="35" font-family='"Liberation Sans", Arial, Helvetica, sans-serif'>80</text>
<text x="118.9" y="976.2" font-size="35" font-family='"Liberation Sans", Arial, Helvetica, sans-serif'>100</text>
<path d="M120.7 972.7h6.8v4.6h-6.8zM131.1 972.7h6.7v4.6h-6.7z" fill="#fff"/>
<path d="M795.1 1274.5v-13M795.1 964v13M833.3 1274.5v-7.2M833.3 964v7.2M871.4 1274.5v-7.2M871.4 964v7.2M909.5 1274.5v-7.2M909.5 964v7.2M947.7 1274.5v-7.2M947.7 964v7.2M985.8 1274.5v-13M985.8 964v13M1023.9 1274.5v-7.2M1023.9 964v7.2M1062.1 1274.5v-7.2M1062.1 964v7.2M1100.2 1274.5v-7.2M1100.2 964v7.2M1138.3 1274.5v-7.2M1138.3 964v7.2M1176.5 1274.5v-13M1176.5 964v13M1214.6 1274.5v-7.2M1214.6 964v7.2M1252.7 1274.5v-7.2M1252.7 964v7.2M1290.9 1274.5v-7.2M1290.9 964v7.2M757 1259h6.7M1329 1259h-8.1M757 1243.5h6.7M1329 1243.5h-8.1M757 1227.9h6.7M1329 1227.9h-8.1M757 1212.4h12.7M1329 1212.4h-14.1M757 1196.9h6.7M1329 1196.9h-8.1M757 1181.3h6.7M1329 1181.3h-8.1M757 1165.8h6.7M1329 1165.8h-8.1M757 1150.3h12.7M1329 1150.3h-14.1M757 1134.8h6.7M1329 1134.8h-8.1M757 1119.2h6.7M1329 1119.2h-8.1M757 1103.7h6.7M1329 1103.7h-8.1M757 1088.2h12.7M1329 1088.2h-14.1M757 1072.7h6.7M1329 1072.7h-8.1M757 1057.2h6.7M1329 1057.2h-8.1M757 1041.6h6.7M1329 1041.6h-8.1M757 1026.1h12.7M1329 1026.1h-14.1M757 1010.6h6.7M1329 1010.6h-8.1M757 995h6.7M1329 995h-8.1M757 979.5h6.7M1329 979.5h-8.1" stroke="#000" stroke-width="2" fill="none" shape-rendering="crispEdges"/>
<text x="765.4" y="1312.5" font-size="42.8" font-family='"Liberation Sans", Arial, Helvetica, sans-serif'>0.5</text>
<text x="977.9" y="1312.5" font-size="42.8" font-family='"Liberation Sans", Arial, Helvetica, sans-serif'>1</text>
<path d="M980 1308.4h8.4v5.2h-8.4zM992.7 1308.4h8.1v5.2h-8.1z" fill="#fff"/>
<text x="1146.7" y="1312.5" font-size="42.8" font-family='"Liberation Sans", Arial, Helvetica, sans-serif'>1.5</text>
<path d="M1148.9 1308.4h8.4v5.2h-8.4zM1161.5 1308.4h8.1v5.2h-8.1z" fill="#fff"/>
<rect x="179" y="43" width="1150" height="310" fill="none" stroke="#000" stroke-width="2" shape-rendering="crispEdges"/>
<path d="M757 43V353" stroke="#000" stroke-width="2" shape-rendering="crispEdges"/>
<rect x="179" y="503" width="1150" height="310.5" fill="none" stroke="#000" stroke-width="2" shape-rendering="crispEdges"/>
<path d="M757 503V813.5" stroke="#000" stroke-width="2" shape-rendering="crispEdges"/>
<rect x="179" y="964" width="1150" height="310.5" fill="none" stroke="#000" stroke-width="2" shape-rendering="crispEdges"/>
<path d="M757 964V1274.5" stroke="#000" stroke-width="2" shape-rendering="crispEdges"/>
<text x="281.00" y="426.80" font-size="47" font-family='"Liberation Serif", "Times New Roman", serif' font-style="italic" fill="#000">M</text>
<text transform="translate(323.20 426.80) scale(0.8 1)" font-size="47" font-family='"Liberation Sans", Arial, Helvetica, sans-serif' fill="#000">(</text>
<text x="337.00" y="426.80" font-size="48.9" font-family='"Liberation Serif", "Times New Roman", serif' stroke="#000" stroke-width="0.7" fill="#000">π</text>
<text x="361.40" y="415.05" font-size="30.7" font-family='"Liberation Sans", Arial, Helvetica, sans-serif' fill="#000">+</text>
<text x="379.40" y="426.80" font-size="48.9" font-family='"Liberation Serif", "Times New Roman", serif' stroke="#000" stroke-width="0.7" fill="#000">π</text>
<text x="403.40" y="404.68" font-size="30.7" font-family='"Liberation Sans", Arial, Helvetica, sans-serif' fill="#000">-</text>
<text x="413.00" y="426.80" font-size="48.9" font-family='"Liberation Serif", "Times New Roman", serif' stroke="#000" stroke-width="0.7" fill="#000">π</text>
<text x="437.60" y="410.60" font-size="30.7" font-family='"Liberation Sans", Arial, Helvetica, sans-serif' fill="#000">0</text>
<text transform="translate(455.40 426.80) scale(0.8 1)" font-size="47" font-family='"Liberation Sans", Arial, Helvetica, sans-serif' fill="#000">)</text>
<text transform="translate(484.20 426.80) scale(0.8 1)" font-size="47" font-family='"Liberation Sans", Arial, Helvetica, sans-serif' fill="#000">(</text>
<text x="497.20" y="426.80" font-size="47" font-family='"Liberation Sans", Arial, Helvetica, sans-serif' fill="#000">GeV/</text>
<text x="604.20" y="426.80" font-size="47" font-family='"Liberation Serif", "Times New Roman", serif' font-style="italic" font-weight="bold" fill="#000">c</text>
<text x="625.00" y="415.20" font-size="30.7" font-family='"Liberation Sans", Arial, Helvetica, sans-serif' fill="#000">2</text>
<text transform="translate(643.20 426.80) scale(0.8 1)" font-size="47" font-family='"Liberation Sans", Arial, Helvetica, sans-serif' fill="#000">)</text>
<text x="860.20" y="433.00" font-size="51.7" font-family='"Liberation Serif", "Times New Roman", serif' font-style="italic" fill="#000">M</text>
<text transform="translate(907.80 433.00) scale(0.8 1)" font-size="51.7" font-family='"Liberation Sans", Arial, Helvetica, sans-serif' fill="#000">(</text>
<text x="922.80" y="433.00" font-size="53.8" font-family='"Liberation Serif", "Times New Roman", serif' stroke="#000" stroke-width="0.7" fill="#000">π</text>
<text x="950.80" y="409.09" font-size="33.8" font-family='"Liberation Sans", Arial, Helvetica, sans-serif' fill="#000">-</text>
<text x="960.80" y="433.00" font-size="53.8" font-family='"Liberation Serif", "Times New Roman", serif' stroke="#000" stroke-width="0.7" fill="#000">π</text>
<text x="988.00" y="415.04" font-size="33.8" font-family='"Liberation Sans", Arial, Helvetica, sans-serif' fill="#000">0</text>
<text transform="translate(1007.00 433.00) scale(0.8 1)" font-size="51.7" font-family='"Liberation Sans", Arial, Helvetica, sans-serif' fill="#000">)</text>
<text transform="translate(1038.80 433.00) scale(0.8 1)" font-size="51.7" font-family='"Liberation Sans", Arial, Helvetica, sans-serif' fill="#000">(</text>
<text x="1054.40" y="433.00" font-size="51.7" font-family='"Liberation Sans", Arial, Helvetica, sans-serif' fill="#000">GeV/</text>
<text x="1171.40" y="433.00" font-size="51.7" font-family='"Liberation Serif", "Times New Roman", serif' font-style="italic" font-weight="bold" fill="#000">c</text>
<text x="1194.40" y="420.20" font-size="33.8" font-family='"Liberation Sans", Arial, Helvetica, sans-serif' fill="#000">2</text>
<text transform="translate(1213.40 433.00) scale(0.8 1)" font-size="51.7" font-family='"Liberation Sans", Arial, Helvetica, sans-serif' fill="#000">)</text>
<text x="285.20" y="893.00" font-size="51.7" font-family='"Liberation Serif", "Times New Roman", serif' font-style="italic" fill="#000">M</text>
<text transform="translate(331.80 893.00) scale(0.8 1)" font-size="51.7" font-family='"Liberation Sans", Arial, Helvetica, sans-serif' fill="#000">(</text>
<text x="347.80" y="893.00" font-size="53.8" font-family='"Liberation Serif", "Times New Roman", serif' stroke="#000" stroke-width="0.7" fill="#000">π</text>
<text x="375.00" y="879.05" font-size="33.8" font-family='"Liberation Sans", Arial, Helvetica, sans-serif' fill="#000">+</text>
<text x="393.80" y="893.00" font-size="53.8" font-family='"Liberation Serif", "Times New Roman", serif' stroke="#000" stroke-width="0.7" fill="#000">π</text>
<text x="420.80" y="869.09" font-size="33.8" font-family='"Liberation Sans", Arial, Helvetica, sans-serif' fill="#000">-</text>
<text transform="translate(432.80 893.00) scale(0.8 1)" font-size="51.7" font-family='"Liberation Sans", Arial, Helvetica, sans-serif' fill="#000">)</text>
<text transform="translate(463.20 893.00) scale(0.8 1)" font-size="51.7" font-family='"Liberation Sans", Arial, Helvetica, sans-serif' fill="#000">(</text>
<text x="478.80" y="893.00" font-size="51.7" font-family='"Liberation Sans", Arial, Helvetica, sans-serif' fill="#000">GeV/</text>
<text x="595.80" y="893.00" font-size="51.7" font-family='"Liberation Serif", "Times New Roman", serif' font-style="italic" font-weight="bold" fill="#000">c</text>
<text x="618.80" y="880.20" font-size="33.8" font-family='"Liberation Sans", Arial, Helvetica, sans-serif' fill="#000">2</text>
<text transform="translate(638.80 893.00) scale(0.8 1)" font-size="51.7" font-family='"Liberation Sans", Arial, Helvetica, sans-serif' fill="#000">)</text>
<text x="856.20" y="893.70" font-size="51.7" font-family='"Liberation Serif", "Times New Roman", serif' font-style="italic" fill="#000">M</text>
<text transform="translate(903.20 893.70) scale(0.8 1)" font-size="51.7" font-family='"Liberation Sans", Arial, Helvetica, sans-serif' fill="#000">(</text>
<text x="918.80" y="893.70" font-size="53.8" font-family='"Liberation Serif", "Times New Roman", serif' stroke="#000" stroke-width="0.7" fill="#000">π</text>
<text x="946.80" y="879.85" font-size="33.8" font-family='"Liberation Sans", Arial, Helvetica, sans-serif' fill="#000">+</text>
<text x="964.80" y="893.70" font-size="53.8" font-family='"Liberation Serif", "Times New Roman", serif' stroke="#000" stroke-width="0.7" fill="#000">π</text>
<text x="991.80" y="875.84" font-size="33.8" font-family='"Liberation Sans", Arial, Helvetica, sans-serif' fill="#000">0</text>
<text transform="translate(1011.00 893.70) scale(0.8 1)" font-size="51.7" font-family='"Liberation Sans", Arial, Helvetica, sans-serif' fill="#000">)</text>
<text transform="translate(1042.00 893.70) scale(0.8 1)" font-size="51.7" font-family='"Liberation Sans", Arial, Helvetica, sans-serif' fill="#000">(</text>
<text x="1057.60" y="893.70" font-size="51.7" font-family='"Liberation Sans", Arial, Helvetica, sans-serif' fill="#000">GeV/</text>
<text x="1175.60" y="893.70" font-size="51.7" font-family='"Liberation Serif", "Times New Roman", serif' font-style="italic" font-weight="bold" fill="#000">c</text>
<text x="1197.60" y="880.00" font-size="33.8" font-family='"Liberation Sans", Arial, Helvetica, sans-serif' fill="#000">2</text>
<text transform="translate(1217.60 893.70) scale(0.8 1)" font-size="51.7" font-family='"Liberation Sans", Arial, Helvetica, sans-serif' fill="#000">)</text>
<text x="262.20" y="1354.00" font-size="51.7" font-family='"Liberation Serif", "Times New Roman", serif' font-style="italic" fill="#000">M</text>
<text transform="translate(309.20 1354.00) scale(0.8 1)" font-size="51.7" font-family='"Liberation Sans", Arial, Helvetica, sans-serif' fill="#000">(</text>
<text x="325.00" y="1354.00" font-size="53.8" font-family='"Liberation Serif", "Times New Roman", serif' stroke="#000" stroke-width="0.7" fill="#000">π</text>
<text x="352.20" y="1340.05" font-size="33.8" font-family='"Liberation Sans", Arial, Helvetica, sans-serif' fill="#000">+</text>
<text x="370.80" y="1354.00" font-size="53.8" font-family='"Liberation Serif", "Times New Roman", serif' stroke="#000" stroke-width="0.7" fill="#000">π</text>
<text x="398.00" y="1340.05" font-size="33.8" font-family='"Liberation Sans", Arial, Helvetica, sans-serif' fill="#000">+</text>
<text x="416.20" y="1354.00" font-size="53.8" font-family='"Liberation Serif", "Times New Roman", serif' stroke="#000" stroke-width="0.7" fill="#000">π</text>
<text x="443.20" y="1330.09" font-size="33.8" font-family='"Liberation Sans", Arial, Helvetica, sans-serif' fill="#000">-</text>
<text transform="translate(455.20 1354.00) scale(0.8 1)" font-size="51.7" font-family='"Liberation Sans", Arial, Helvetica, sans-serif' fill="#000">)</text>
<text transform="translate(487.00 1354.00) scale(0.8 1)" font-size="51.7" font-family='"Liberation Sans", Arial, Helvetica, sans-serif' fill="#000">(</text>
<text x="502.60" y="1354.00" font-size="51.7" font-family='"Liberation Sans", Arial, Helvetica, sans-serif' fill="#000">GeV/</text>
<text x="619.60" y="1354.00" font-size="51.7" font-family='"Liberation Serif", "Times New Roman", serif' font-style="italic" font-weight="bold" fill="#000">c</text>
<text x="642.60" y="1341.20" font-size="33.8" font-family='"Liberation Sans", Arial, Helvetica, sans-serif' fill="#000">2</text>
<text transform="translate(661.60 1354.00) scale(0.8 1)" font-size="51.7" font-family='"Liberation Sans", Arial, Helvetica, sans-serif' fill="#000">)</text>
<text x="833.20" y="1354.00" font-size="51.7" font-family='"Liberation Serif", "Times New Roman", serif' font-style="italic" fill="#000">M</text>
<text transform="translate(880.00 1354.00) scale(0.8 1)" font-size="51.7" font-family='"Liberation Sans", Arial, Helvetica, sans-serif' fill="#000">(</text>
<text x="895.20" y="1354.00" font-size="53.8" font-family='"Liberation Serif", "Times New Roman", serif' stroke="#000" stroke-width="0.7" fill="#000">π</text>
<text x="923.20" y="1340.05" font-size="33.8" font-family='"Liberation Sans", Arial, Helvetica, sans-serif' fill="#000">+</text>
<text x="942.20" y="1354.00" font-size="53.8" font-family='"Liberation Serif", "Times New Roman", serif' stroke="#000" stroke-width="0.7" fill="#000">π</text>
<text x="969.80" y="1340.05" font-size="33.8" font-family='"Liberation Sans", Arial, Helvetica, sans-serif' fill="#000">+</text>
<text x="988.00" y="1354.00" font-size="53.8" font-family='"Liberation Serif", "Times New Roman", serif' stroke="#000" stroke-width="0.7" fill="#000">π</text>
<text x="1015.20" y="1336.04" font-size="33.8" font-family='"Liberation Sans", Arial, Helvetica, sans-serif' fill="#000">0</text>
<text transform="translate(1034.60 1354.00) scale(0.8 1)" font-size="51.7" font-family='"Liberation Sans", Arial, Helvetica, sans-serif' fill="#000">)</text>
<text transform="translate(1066.40 1354.00) scale(0.8 1)" font-size="51.7" font-family='"Liberation Sans", Arial, Helvetica, sans-serif' fill="#000">(</text>
<text x="1081.00" y="1354.00" font-size="51.7" font-family='"Liberation Sans", Arial, Helvetica, sans-serif' fill="#000">GeV/</text>
<text x="1199.00" y="1354.00" font-size="51.7" font-family='"Liberation Serif", "Times New Roman", serif' font-style="italic" font-weight="bold" fill="#000">c</text>
<text x="1222.00" y="1341.20" font-size="33.8" font-family='"Liberation Sans", Arial, Helvetica, sans-serif' fill="#000">2</text>
<text transform="translate(1241.00 1354.00) scale(0.8 1)" font-size="51.7" font-family='"Liberation Sans", Arial, Helvetica, sans-serif' fill="#000">)</text>
<g transform="translate(89.5 43) rotate(-90) scale(0.955 1)"><text font-size="40" font-family='"Liberation Sans", Arial, Helvetica, sans-serif' text-anchor="end" x="22.5" y="0">Events / (15 MeV/c<tspan font-size="27" dy="-17">2</tspan><tspan dy="17">)</tspan></text><path d="M-172.8 -3.9h7.8v5h-7.8zM-161 -3.9h7.4v5h-7.4z" fill="#fff"/></g>
<g transform="translate(89.5 503) rotate(-90) scale(0.955 1)"><text font-size="40" font-family='"Liberation Sans", Arial, Helvetica, sans-serif' text-anchor="end" x="22.5" y="0">Events / (15 MeV/c<tspan font-size="27" dy="-17">2</tspan><tspan dy="17">)</tspan></text><path d="M-172.8 -3.9h7.8v5h-7.8zM-161 -3.9h7.4v5h-7.4z" fill="#fff"/></g>
<g transform="translate(89.5 964) rotate(-90) scale(0.955 1)"><text font-size="40" font-family='"Liberation Sans", Arial, Helvetica, sans-serif' text-anchor="end" x="22.5" y="0">Events / (15 MeV/c<tspan font-size="27" dy="-17">2</tspan><tspan dy="17">)</tspan></text><path d="M-172.8 -3.9h7.8v5h-7.8zM-161 -3.9h7.4v5h-7.4z" fill="#fff"/></g>
</svg>
</body></html>
